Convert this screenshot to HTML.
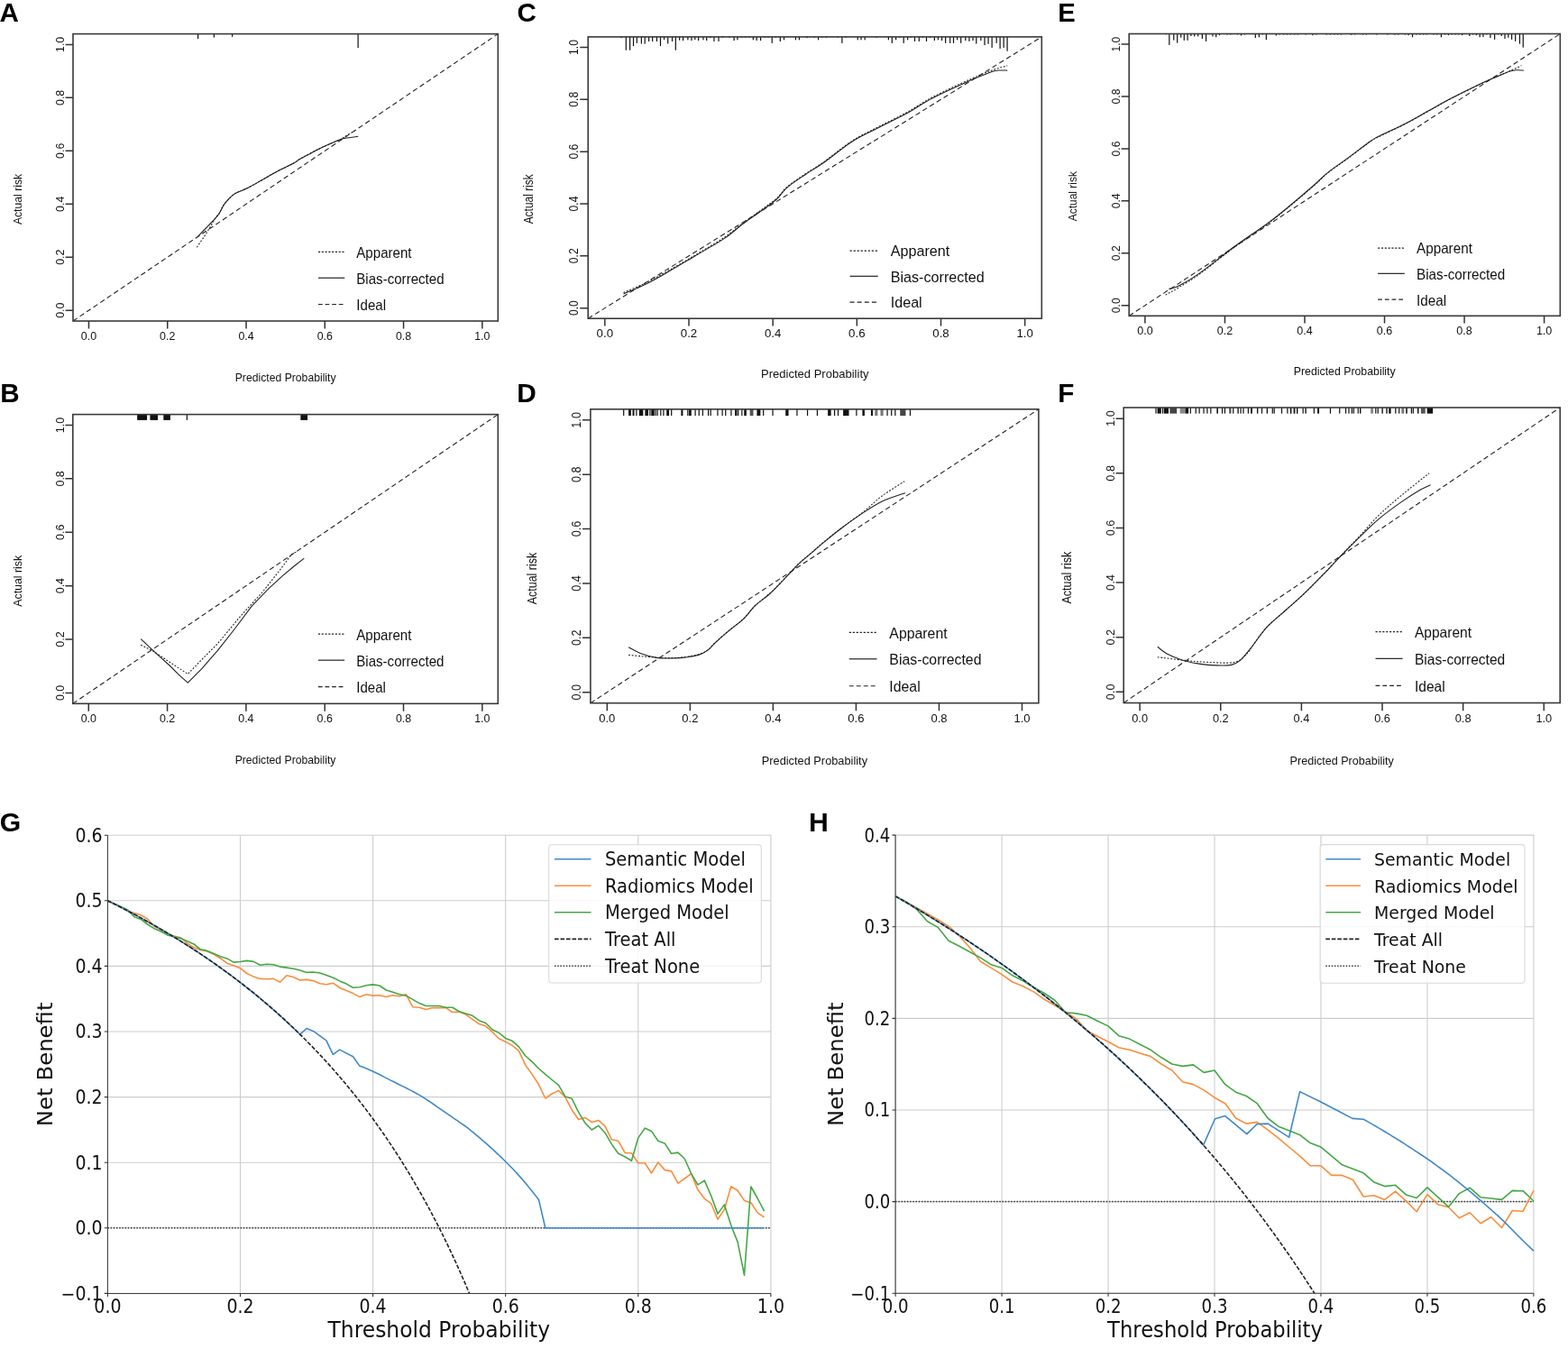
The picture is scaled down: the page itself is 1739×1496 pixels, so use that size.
<!DOCTYPE html><html><head><meta charset="utf-8"><title>Calibration and decision curves</title>
<style>html,body{margin:0;padding:0;background:#fff;}svg{display:block;}</style></head><body>
<svg width="1739" height="1496" viewBox="0 0 1739 1496">
<rect width="1739" height="1496" fill="#fff"/>
<g>
<line x1="81" y1="356" x2="552.3" y2="37.6" stroke="#222" stroke-width="1.1" stroke-dasharray="5.6 3.5"/>
<path d="M218.3 274.2C219.47 272.52 222.87 267.78 225.3 264.1C227.73 260.42 230.58 255.9 232.9 252.1C235.22 248.3 237.52 243.83 239.2 241.3C240.88 238.77 241.52 239.22 243 236.9C244.48 234.58 245.35 230.98 248.1 227.4C250.85 223.82 255.28 218.45 259.5 215.4C263.72 212.35 268.55 211.53 273.4 209.1C278.25 206.67 282.92 203.97 288.6 200.8C294.28 197.63 301.18 193.47 307.5 190.1C313.82 186.73 322.28 182.92 326.5 180.6C330.72 178.28 327.95 178.93 332.8 176.2C337.65 173.47 348.22 167.78 355.6 164.2C362.98 160.62 372.2 157.07 377.1 154.7C382 152.33 382.27 151.63 385 150C387.73 148.37 392.08 145.75 393.5 144.9" fill="none" stroke="#222" stroke-width="1.1" stroke-dasharray="1.9 1.75"/>
<path d="M219 262.8C220.17 261.58 223.47 258.13 226 255.5C228.53 252.87 232.03 249.28 234.2 247C236.37 244.72 237.53 243.48 239 241.8C240.47 240.12 241.48 239.3 243 236.9C244.52 234.5 246.43 230 248.1 227.4C249.77 224.8 251.1 223.3 253 221.3C254.9 219.3 257.33 216.92 259.5 215.4C261.67 213.88 263.68 213.25 266 212.2C268.32 211.15 269.63 211 273.4 209.1C277.17 207.2 282.92 203.97 288.6 200.8C294.28 197.63 301.18 193.47 307.5 190.1C313.82 186.73 322.28 182.92 326.5 180.6C330.72 178.28 329.88 177.88 332.8 176.2C335.72 174.52 340.2 172.5 344 170.5C347.8 168.5 350.08 166.83 355.6 164.2C361.12 161.57 372.53 156.53 377.1 154.7C381.67 152.87 381.1 153.57 383 153.2C384.9 152.83 386.12 152.82 388.5 152.5C390.88 152.18 395.83 151.5 397.3 151.3" fill="none" stroke="#222" stroke-width="1.1"/>
<rect x="219" y="37.6" width="1.2" height="5.4" fill="#111"/>
<rect x="236.8" y="37.6" width="1.2" height="4" fill="#111"/>
<rect x="257" y="37.6" width="1.2" height="3.2" fill="#111"/>
<rect x="396.5" y="37.6" width="1.2" height="15.5" fill="#111"/>
<rect x="81" y="37.6" width="471.3" height="318.4" fill="none" stroke="#3a3a3a" stroke-width="1.6"/>
<path d="M98.46 356v8.4M81 344.21h-8.4M185.73 356v8.4M81 285.24h-8.4M273.01 356v8.4M81 226.28h-8.4M360.29 356v8.4M81 167.32h-8.4M447.57 356v8.4M81 108.36h-8.4M534.84 356v8.4M81 49.39h-8.4" stroke="#333" stroke-width="1.5" fill="none"/>
<g font-family="'Liberation Sans', Arial, sans-serif" font-size="12.4" fill="#111" text-anchor="middle">
<text transform="translate(98.46 376.9) scale(1 1) scale(1 1.05)">0.0</text>
<text transform="translate(70.8 344.21) scale(1 1) rotate(-90) scale(1 1.07)">0.0</text>
<text transform="translate(185.73 376.9) scale(1 1) scale(1 1.05)">0.2</text>
<text transform="translate(70.8 285.24) scale(1 1) rotate(-90) scale(1 1.07)">0.2</text>
<text transform="translate(273.01 376.9) scale(1 1) scale(1 1.05)">0.4</text>
<text transform="translate(70.8 226.28) scale(1 1) rotate(-90) scale(1 1.07)">0.4</text>
<text transform="translate(360.29 376.9) scale(1 1) scale(1 1.05)">0.6</text>
<text transform="translate(70.8 167.32) scale(1 1) rotate(-90) scale(1 1.07)">0.6</text>
<text transform="translate(447.57 376.9) scale(1 1) scale(1 1.05)">0.8</text>
<text transform="translate(70.8 108.36) scale(1 1) rotate(-90) scale(1 1.07)">0.8</text>
<text transform="translate(534.84 376.9) scale(1 1) scale(1 1.05)">1.0</text>
<text transform="translate(70.8 49.39) scale(1 1) rotate(-90) scale(1 1.07)">1.0</text>
</g>
<g font-family="'Liberation Sans', Arial, sans-serif" font-size="12.2" fill="#111" text-anchor="middle">
<text transform="translate(316.65 422.6) scale(1 1) scale(1 1.05)">Predicted Probability</text>
<text transform="translate(24 221) scale(1 1) rotate(-90) scale(1 1.1)">Actual risk</text>
</g>
<line x1="353" y1="279.4" x2="381.8" y2="279.4" stroke="#222" stroke-width="1.2" stroke-dasharray="2.15 1.62"/>
<line x1="353" y1="308.2" x2="382.2" y2="308.2" stroke="#222" stroke-width="1.2"/>
<line x1="353" y1="337.5" x2="380.6" y2="337.5" stroke="#222" stroke-width="1.2" stroke-dasharray="4.7 2.9"/>
<g font-family="'Liberation Sans', Arial, sans-serif" font-size="15.1" fill="#111">
<text transform="translate(395.3 285.9) scale(1 1) scale(1 1.06)">Apparent</text>
<text transform="translate(395.3 314.7) scale(1 1) scale(1 1.06)">Bias-corrected</text>
<text transform="translate(395.3 344) scale(1 1) scale(1 1.06)">Ideal</text>
</g>
</g>
<g>
<line x1="80.8" y1="780.3" x2="552.3" y2="459.6" stroke="#222" stroke-width="1.1" stroke-dasharray="5.6 3.5"/>
<polyline points="156.2,715.2 169.1,721.6 188.1,734.2 208.3,747.5 223.5,731.7 241.2,714 266.5,683.6 291.8,655.8 310.8,631.7 323.4,614.7 329.8,611.5" fill="none" stroke="#222" stroke-width="1.1" stroke-dasharray="1.9 1.75"/>
<polyline points="156.2,708.7 175.4,726.6 188.1,738 198.2,748.1 208.3,757.2 223.5,741.8 241.2,721.6 260.2,697.5 279.2,672.2 298.1,652.6 313.3,638.7 326,628 337.3,619.1" fill="none" stroke="#222" stroke-width="1.1" stroke-linejoin="round"/>
<rect x="152.15" y="459.6" width="10.9" height="6.3" fill="#111"/>
<rect x="166.4" y="459.6" width="8.6" height="6.3" fill="#111"/>
<rect x="181.3" y="459.6" width="7.6" height="6.3" fill="#111"/>
<rect x="206.8" y="459.6" width="1.2" height="6.3" fill="#111"/>
<rect x="333.35" y="459.6" width="7.7" height="6.3" fill="#111"/>
<rect x="80.8" y="459.6" width="471.5" height="320.7" fill="none" stroke="#3a3a3a" stroke-width="1.6"/>
<path d="M98.26 780.3v8.46M80.8 768.42h-8.4M185.58 780.3v8.46M80.8 709.03h-8.4M272.89 780.3v8.46M80.8 649.64h-8.4M360.21 780.3v8.46M80.8 590.26h-8.4M447.52 780.3v8.46M80.8 530.87h-8.4M534.84 780.3v8.46M80.8 471.48h-8.4" stroke="#333" stroke-width="1.5" fill="none"/>
<g font-family="'Liberation Sans', Arial, sans-serif" font-size="12.4" fill="#111" text-anchor="middle">
<text transform="translate(98.26 801.35) scale(1 1.01) scale(1 1.05)">0.0</text>
<text transform="translate(70.6 768.42) scale(1 1.01) rotate(-90) scale(1 1.07)">0.0</text>
<text transform="translate(185.58 801.35) scale(1 1.01) scale(1 1.05)">0.2</text>
<text transform="translate(70.6 709.03) scale(1 1.01) rotate(-90) scale(1 1.07)">0.2</text>
<text transform="translate(272.89 801.35) scale(1 1.01) scale(1 1.05)">0.4</text>
<text transform="translate(70.6 649.64) scale(1 1.01) rotate(-90) scale(1 1.07)">0.4</text>
<text transform="translate(360.21 801.35) scale(1 1.01) scale(1 1.05)">0.6</text>
<text transform="translate(70.6 590.26) scale(1 1.01) rotate(-90) scale(1 1.07)">0.6</text>
<text transform="translate(447.52 801.35) scale(1 1.01) scale(1 1.05)">0.8</text>
<text transform="translate(70.6 530.87) scale(1 1.01) rotate(-90) scale(1 1.07)">0.8</text>
<text transform="translate(534.84 801.35) scale(1 1.01) scale(1 1.05)">1.0</text>
<text transform="translate(70.6 471.48) scale(1 1.01) rotate(-90) scale(1 1.07)">1.0</text>
</g>
<g font-family="'Liberation Sans', Arial, sans-serif" font-size="12.2" fill="#111" text-anchor="middle">
<text transform="translate(316.55 847.38) scale(1 1.01) scale(1 1.05)">Predicted Probability</text>
<text transform="translate(23.78 644.32) scale(1 1.01) rotate(-90) scale(1 1.1)">Actual risk</text>
</g>
<line x1="352.92" y1="703.15" x2="381.73" y2="703.15" stroke="#222" stroke-width="1.2" stroke-dasharray="2.15 1.62"/>
<line x1="352.92" y1="732.15" x2="382.13" y2="732.15" stroke="#222" stroke-width="1.2"/>
<line x1="352.92" y1="761.67" x2="380.53" y2="761.67" stroke="#222" stroke-width="1.2" stroke-dasharray="4.7 2.9"/>
<g font-family="'Liberation Sans', Arial, sans-serif" font-size="15.1" fill="#111">
<text transform="translate(395.23 709.69) scale(1 1.01) scale(1 1.06)">Apparent</text>
<text transform="translate(395.23 738.7) scale(1 1.01) scale(1 1.06)">Bias-corrected</text>
<text transform="translate(395.23 768.21) scale(1 1.01) scale(1 1.06)">Ideal</text>
</g>
</g>
<g>
<line x1="652.2" y1="353.2" x2="1155.3" y2="40.9" stroke="#222" stroke-width="1.1" stroke-dasharray="5.6 3.5"/>
<path d="M691.6 324.5C695.92 322.58 708.87 317.25 717.5 313C726.13 308.75 733.82 304.42 743.4 299C752.98 293.58 764.93 286.5 775 280.5C785.07 274.5 795.65 268.5 803.8 263C811.95 257.5 817.2 252.5 823.9 247.5C830.6 242.5 837.77 237.58 844 233C850.23 228.42 856.5 224.28 861.3 220C866.1 215.72 867.53 211.8 872.8 207.3C878.07 202.8 886.2 197.55 892.9 193C899.6 188.45 904.38 186.08 913 180C921.62 173.92 935.02 162.75 944.6 156.5C954.18 150.25 960.43 147.75 970.5 142.5C980.57 137.25 994.45 130.75 1005 125C1015.55 119.25 1021.82 114.25 1033.8 108C1045.78 101.75 1065.87 92.5 1076.9 87.5C1087.93 82.5 1093.28 80.43 1100 78C1106.72 75.57 1114.33 73.75 1117.2 72.9" fill="none" stroke="#222" stroke-width="1.1" stroke-dasharray="1.9 1.75"/>
<path d="M691.6 326C695.92 324.08 708.87 318.82 717.5 314.5C726.13 310.18 733.82 305.62 743.4 300.1C752.98 294.58 764.93 287.4 775 281.4C785.07 275.4 795.65 269.62 803.8 264.1C811.95 258.58 817.2 253.32 823.9 248.3C830.6 243.28 837.77 238.55 844 234C850.23 229.45 856.5 225.32 861.3 221C866.1 216.68 867.53 212.65 872.8 208.1C878.07 203.55 886.2 198.25 892.9 193.7C899.6 189.15 904.38 186.88 913 180.8C921.62 174.72 935.02 163.43 944.6 157.2C954.18 150.97 960.43 148.58 970.5 143.4C980.57 138.22 994.45 131.85 1005 126.1C1015.55 120.35 1021.82 115.12 1033.8 108.9C1045.78 102.68 1066.7 93.37 1076.9 88.8C1087.1 84.23 1090.68 83.18 1095 81.5C1099.32 79.82 1100.63 79.28 1102.8 78.7C1104.97 78.12 1105.6 78.1 1108 78C1110.4 77.9 1115.67 78.08 1117.2 78.1" fill="none" stroke="#222" stroke-width="1.1"/>
<rect x="688.51" y="40.9" width="1.2" height="1.27" fill="#111"/>
<rect x="693.69" y="40.9" width="1.2" height="14.8" fill="#111"/>
<rect x="698" y="40.9" width="1.2" height="14.8" fill="#111"/>
<rect x="701.92" y="40.9" width="1.2" height="10.12" fill="#111"/>
<rect x="705.71" y="40.9" width="1.2" height="6.96" fill="#111"/>
<rect x="710.77" y="40.9" width="1.2" height="7.59" fill="#111"/>
<rect x="714.57" y="40.9" width="1.2" height="7.84" fill="#111"/>
<rect x="719" y="40.9" width="1.2" height="5.06" fill="#111"/>
<rect x="723.04" y="40.9" width="1.2" height="5.06" fill="#111"/>
<rect x="727.85" y="40.9" width="1.2" height="5.06" fill="#111"/>
<rect x="731.9" y="40.9" width="1.2" height="10.12" fill="#111"/>
<rect x="735.95" y="40.9" width="1.2" height="3.16" fill="#111"/>
<rect x="740.12" y="40.9" width="1.2" height="7.59" fill="#111"/>
<rect x="744.93" y="40.9" width="1.2" height="5.06" fill="#111"/>
<rect x="748.72" y="40.9" width="1.2" height="14.8" fill="#111"/>
<rect x="753.02" y="40.9" width="1.2" height="3.8" fill="#111"/>
<rect x="756.95" y="40.9" width="1.2" height="4.17" fill="#111"/>
<rect x="762.26" y="40.9" width="1.2" height="3.42" fill="#111"/>
<rect x="766.31" y="40.9" width="1.2" height="4.17" fill="#111"/>
<rect x="770.23" y="40.9" width="1.2" height="3.16" fill="#111"/>
<rect x="774.02" y="40.9" width="1.2" height="4.17" fill="#111"/>
<rect x="779.34" y="40.9" width="1.2" height="3.42" fill="#111"/>
<rect x="783.13" y="40.9" width="1.2" height="4.17" fill="#111"/>
<rect x="787.18" y="40.9" width="1.2" height="1.27" fill="#111"/>
<rect x="791.35" y="40.9" width="1.2" height="5.06" fill="#111"/>
<rect x="796.41" y="40.9" width="1.2" height="5.06" fill="#111"/>
<rect x="800.84" y="40.9" width="1.2" height="0.89" fill="#111"/>
<rect x="808.43" y="40.9" width="1.2" height="0.89" fill="#111"/>
<rect x="813.49" y="40.9" width="1.2" height="4.17" fill="#111"/>
<rect x="817.29" y="40.9" width="1.2" height="3.42" fill="#111"/>
<rect x="821.71" y="40.9" width="1.2" height="0.89" fill="#111"/>
<rect x="826.14" y="40.9" width="1.2" height="0.89" fill="#111"/>
<rect x="830.57" y="40.9" width="1.2" height="0.89" fill="#111"/>
<rect x="834.74" y="40.9" width="1.2" height="3.42" fill="#111"/>
<rect x="838.54" y="40.9" width="1.2" height="4.17" fill="#111"/>
<rect x="842.97" y="40.9" width="1.2" height="4.17" fill="#111"/>
<rect x="847.65" y="40.9" width="1.2" height="0.89" fill="#111"/>
<rect x="851.44" y="40.9" width="1.2" height="0.89" fill="#111"/>
<rect x="855.62" y="40.9" width="1.2" height="6.96" fill="#111"/>
<rect x="859.67" y="40.9" width="1.2" height="0.89" fill="#111"/>
<rect x="864.73" y="40.9" width="1.2" height="5.06" fill="#111"/>
<rect x="868.9" y="40.9" width="1.2" height="3.42" fill="#111"/>
<rect x="881.8" y="40.9" width="1.2" height="3.42" fill="#111"/>
<rect x="885.85" y="40.9" width="1.2" height="3.42" fill="#111"/>
<rect x="894.45" y="40.9" width="1.2" height="1.27" fill="#111"/>
<rect x="902.56" y="40.9" width="1.2" height="0.89" fill="#111"/>
<rect x="906.99" y="40.9" width="1.2" height="3.42" fill="#111"/>
<rect x="911.42" y="40.9" width="1.2" height="0.89" fill="#111"/>
<rect x="915.85" y="40.9" width="1.2" height="0.89" fill="#111"/>
<rect x="928.5" y="40.9" width="1.2" height="0.89" fill="#111"/>
<rect x="933.3" y="40.9" width="1.2" height="6.96" fill="#111"/>
<rect x="937.35" y="40.9" width="1.2" height="0.89" fill="#111"/>
<rect x="950.63" y="40.9" width="1.2" height="3.42" fill="#111"/>
<rect x="954.43" y="40.9" width="1.2" height="3.42" fill="#111"/>
<rect x="958.6" y="40.9" width="1.2" height="3.42" fill="#111"/>
<rect x="971.51" y="40.9" width="1.2" height="0.89" fill="#111"/>
<rect x="984.79" y="40.9" width="1.2" height="3.42" fill="#111"/>
<rect x="988.71" y="40.9" width="1.2" height="6.96" fill="#111"/>
<rect x="993.01" y="40.9" width="1.2" height="3.42" fill="#111"/>
<rect x="997.44" y="40.9" width="1.2" height="0.89" fill="#111"/>
<rect x="1001.61" y="40.9" width="1.2" height="6.96" fill="#111"/>
<rect x="1006.04" y="40.9" width="1.2" height="3.42" fill="#111"/>
<rect x="1009.46" y="40.9" width="1.2" height="0.89" fill="#111"/>
<rect x="1013.88" y="40.9" width="1.2" height="5.06" fill="#111"/>
<rect x="1018.69" y="40.9" width="1.2" height="5.06" fill="#111"/>
<rect x="1022.74" y="40.9" width="1.2" height="0.89" fill="#111"/>
<rect x="1026.91" y="40.9" width="1.2" height="5.06" fill="#111"/>
<rect x="1030.96" y="40.9" width="1.2" height="0.89" fill="#111"/>
<rect x="1035.77" y="40.9" width="1.2" height="4.17" fill="#111"/>
<rect x="1039.82" y="40.9" width="1.2" height="3.42" fill="#111"/>
<rect x="1043.99" y="40.9" width="1.2" height="4.17" fill="#111"/>
<rect x="1048.04" y="40.9" width="1.2" height="6.96" fill="#111"/>
<rect x="1053.1" y="40.9" width="1.2" height="6.96" fill="#111"/>
<rect x="1056.9" y="40.9" width="1.2" height="6.96" fill="#111"/>
<rect x="1061.07" y="40.9" width="1.2" height="3.42" fill="#111"/>
<rect x="1065.12" y="40.9" width="1.2" height="6.96" fill="#111"/>
<rect x="1070.18" y="40.9" width="1.2" height="4.17" fill="#111"/>
<rect x="1074.35" y="40.9" width="1.2" height="5.06" fill="#111"/>
<rect x="1078.4" y="40.9" width="1.2" height="4.17" fill="#111"/>
<rect x="1082.2" y="40.9" width="1.2" height="7.59" fill="#111"/>
<rect x="1087.26" y="40.9" width="1.2" height="4.17" fill="#111"/>
<rect x="1091.43" y="40.9" width="1.2" height="9.23" fill="#111"/>
<rect x="1095.48" y="40.9" width="1.2" height="7.84" fill="#111"/>
<rect x="1099.53" y="40.9" width="1.2" height="12.02" fill="#111"/>
<rect x="1104.59" y="40.9" width="1.2" height="6.96" fill="#111"/>
<rect x="1108.51" y="40.9" width="1.2" height="13.03" fill="#111"/>
<rect x="1112.56" y="40.9" width="1.2" height="12.02" fill="#111"/>
<rect x="1116.48" y="40.9" width="1.2" height="15.81" fill="#111"/>
<rect x="652.2" y="40.9" width="503.1" height="312.3" fill="none" stroke="#3a3a3a" stroke-width="1.6"/>
<path d="M670.83 353.2v8.24M652.2 341.63h-8.97M764 353.2v8.24M652.2 283.8h-8.97M857.17 353.2v8.24M652.2 225.97h-8.97M950.33 353.2v8.24M652.2 168.13h-8.97M1043.5 353.2v8.24M652.2 110.3h-8.97M1136.67 353.2v8.24M652.2 52.47h-8.97" stroke="#333" stroke-width="1.5" fill="none"/>
<g font-family="'Liberation Sans', Arial, sans-serif" font-size="12.4" fill="#111" text-anchor="middle">
<text transform="translate(670.83 373.7) scale(1.07 0.98) scale(1 1.05)">0.0</text>
<text transform="translate(641.31 341.63) scale(1.07 0.98) rotate(-90) scale(1 1.07)">0.0</text>
<text transform="translate(764 373.7) scale(1.07 0.98) scale(1 1.05)">0.2</text>
<text transform="translate(641.31 283.8) scale(1.07 0.98) rotate(-90) scale(1 1.07)">0.2</text>
<text transform="translate(857.17 373.7) scale(1.07 0.98) scale(1 1.05)">0.4</text>
<text transform="translate(641.31 225.97) scale(1.07 0.98) rotate(-90) scale(1 1.07)">0.4</text>
<text transform="translate(950.33 373.7) scale(1.07 0.98) scale(1 1.05)">0.6</text>
<text transform="translate(641.31 168.13) scale(1.07 0.98) rotate(-90) scale(1 1.07)">0.6</text>
<text transform="translate(1043.5 373.7) scale(1.07 0.98) scale(1 1.05)">0.8</text>
<text transform="translate(641.31 110.3) scale(1.07 0.98) rotate(-90) scale(1 1.07)">0.8</text>
<text transform="translate(1136.67 373.7) scale(1.07 0.98) scale(1 1.05)">1.0</text>
<text transform="translate(641.31 52.47) scale(1.07 0.98) rotate(-90) scale(1 1.07)">1.0</text>
</g>
<g font-family="'Liberation Sans', Arial, sans-serif" font-size="12.2" fill="#111" text-anchor="middle">
<text transform="translate(903.75 418.52) scale(1.07 0.98) scale(1 1.05)">Predicted Probability</text>
<text transform="translate(591.35 220.79) scale(1.07 0.98) rotate(-90) scale(1 1.1)">Actual risk</text>
</g>
<line x1="942.55" y1="278.07" x2="973.3" y2="278.07" stroke="#222" stroke-width="1.2" stroke-dasharray="2.3 1.73"/>
<line x1="942.55" y1="306.32" x2="973.72" y2="306.32" stroke="#222" stroke-width="1.2"/>
<line x1="942.55" y1="335.05" x2="972.01" y2="335.05" stroke="#222" stroke-width="1.2" stroke-dasharray="5.02 3.1"/>
<g font-family="'Liberation Sans', Arial, sans-serif" font-size="15.1" fill="#111">
<text transform="translate(987.71 284.44) scale(1.07 0.98) scale(1 1.06)">Apparent</text>
<text transform="translate(987.71 312.69) scale(1.07 0.98) scale(1 1.06)">Bias-corrected</text>
<text transform="translate(987.71 341.43) scale(1.07 0.98) scale(1 1.06)">Ideal</text>
</g>
</g>
<g>
<line x1="654.9" y1="779.7" x2="1151.9" y2="453.8" stroke="#222" stroke-width="1.1" stroke-dasharray="5.6 3.5"/>
<path d="M697.1 726.4C699.58 726.63 706.8 727.33 712 727.8C717.2 728.27 723.3 728.9 728.3 729.2C733.3 729.5 737.3 729.63 742 729.6C746.7 729.57 751.07 729.63 756.5 729C761.93 728.37 769.92 727.13 774.6 725.8C779.28 724.47 781.58 723.13 784.6 721C787.62 718.87 788.67 716.67 792.7 713C796.73 709.33 803.43 703.5 808.8 699C814.17 694.5 820.2 690.5 824.9 686C829.6 681.5 832.3 676.55 837 672C841.7 667.45 847.73 663.6 853.1 658.7C858.47 653.8 863.83 648.13 869.2 642.6C874.57 637.07 880.27 630.37 885.3 625.5C890.33 620.63 894.72 617.43 899.4 613.4C904.08 609.37 907.7 606 913.4 601.3C919.1 596.6 926.22 590.83 933.6 585.2C940.98 579.57 950.33 573.32 957.7 567.5C965.07 561.68 970.25 555.92 977.8 550.3C985.35 544.68 998.8 536.55 1003 533.8" fill="none" stroke="#222" stroke-width="1.1" stroke-dasharray="1.9 1.75"/>
<path d="M697.1 717.7C699.28 718.82 705 722.45 710.2 724.4C715.4 726.35 723 728.47 728.3 729.4C733.6 730.33 737.3 730 742 730C746.7 730 751.07 730 756.5 729.4C761.93 728.8 769.92 727.73 774.6 726.4C779.28 725.07 781.58 723.58 784.6 721.4C787.62 719.22 788.67 717 792.7 713.3C796.73 709.6 803.43 703.72 808.8 699.2C814.17 694.68 820.2 690.72 824.9 686.2C829.6 681.68 832.3 676.63 837 672.1C841.7 667.57 847.73 663.87 853.1 659C858.47 654.13 863.83 648.43 869.2 642.9C874.57 637.37 880.27 630.67 885.3 625.8C890.33 620.93 894.72 617.73 899.4 613.7C904.08 609.67 907.7 606.3 913.4 601.6C919.1 596.9 926.22 591.03 933.6 585.5C940.98 579.97 950.33 573.27 957.7 568.4C965.07 563.53 971.77 559.38 977.8 556.3C983.83 553.22 989.53 551.5 993.9 549.9C998.27 548.3 1002.32 547.23 1004 546.7" fill="none" stroke="#222" stroke-width="1.1"/>
<rect x="691.1" y="453.8" width="1.2" height="7.2" fill="#111"/>
<rect x="697.08" y="453.8" width="2.8" height="7.2" fill="#111"/>
<rect x="701.53" y="453.8" width="1.97" height="7.2" fill="#111"/>
<rect x="705.28" y="453.8" width="1.2" height="7.2" fill="#111"/>
<rect x="708.78" y="453.8" width="4.55" height="7.2" fill="#111"/>
<rect x="715.4" y="453.8" width="3.62" height="7.2" fill="#111"/>
<rect x="720.29" y="453.8" width="1.2" height="7.2" fill="#111"/>
<rect x="722.24" y="453.8" width="3.52" height="7.2" fill="#111"/>
<rect x="726.5" y="453.8" width="1.2" height="7.2" fill="#111"/>
<rect x="728.57" y="453.8" width="1.2" height="7.2" fill="#111"/>
<rect x="732.2" y="453.8" width="1.2" height="7.2" fill="#111"/>
<rect x="735.3" y="453.8" width="1.2" height="7.2" fill="#111"/>
<rect x="739.21" y="453.8" width="2.9" height="7.2" fill="#111"/>
<rect x="744.1" y="453.8" width="1.2" height="7.2" fill="#111"/>
<rect x="755.36" y="453.8" width="2.07" height="7.2" fill="#111"/>
<rect x="762.22" y="453.8" width="1.2" height="7.2" fill="#111"/>
<rect x="764.06" y="453.8" width="2.69" height="7.2" fill="#111"/>
<rect x="770.5" y="453.8" width="1.2" height="7.2" fill="#111"/>
<rect x="774.64" y="453.8" width="1.2" height="7.2" fill="#111"/>
<rect x="778.78" y="453.8" width="1.2" height="7.2" fill="#111"/>
<rect x="784.99" y="453.8" width="1.2" height="7.2" fill="#111"/>
<rect x="787.58" y="453.8" width="1.2" height="7.2" fill="#111"/>
<rect x="795.34" y="453.8" width="1.2" height="7.2" fill="#111"/>
<rect x="800.52" y="453.8" width="1.2" height="7.2" fill="#111"/>
<rect x="804.14" y="453.8" width="1.2" height="7.2" fill="#111"/>
<rect x="810.35" y="453.8" width="1.2" height="7.2" fill="#111"/>
<rect x="815.09" y="453.8" width="2.38" height="7.2" fill="#111"/>
<rect x="818.12" y="453.8" width="1.2" height="7.2" fill="#111"/>
<rect x="822.26" y="453.8" width="1.2" height="7.2" fill="#111"/>
<rect x="825.24" y="453.8" width="2.59" height="7.2" fill="#111"/>
<rect x="831.66" y="453.8" width="3.83" height="7.2" fill="#555"/>
<rect x="839.42" y="453.8" width="3.93" height="7.2" fill="#111"/>
<rect x="846.07" y="453.8" width="1.2" height="7.2" fill="#111"/>
<rect x="856.42" y="453.8" width="1.2" height="7.2" fill="#111"/>
<rect x="871.22" y="453.8" width="3.31" height="7.2" fill="#111"/>
<rect x="883.35" y="453.8" width="1.2" height="7.2" fill="#111"/>
<rect x="894.95" y="453.8" width="1.2" height="7.2" fill="#111"/>
<rect x="905.82" y="453.8" width="1.2" height="7.2" fill="#111"/>
<rect x="918.12" y="453.8" width="3.52" height="7.2" fill="#111"/>
<rect x="924.97" y="453.8" width="1.2" height="7.2" fill="#111"/>
<rect x="928.9" y="453.8" width="1.2" height="7.2" fill="#111"/>
<rect x="935.09" y="453.8" width="6.42" height="7.2" fill="#111"/>
<rect x="949.3" y="453.8" width="1.2" height="7.2" fill="#111"/>
<rect x="956.42" y="453.8" width="2.48" height="7.2" fill="#111"/>
<rect x="965.94" y="453.8" width="2.07" height="7.2" fill="#111"/>
<rect x="970.29" y="453.8" width="3.11" height="7.2" fill="#777"/>
<rect x="976.5" y="453.8" width="3.11" height="7.2" fill="#777"/>
<rect x="983.46" y="453.8" width="1.2" height="7.2" fill="#111"/>
<rect x="988.12" y="453.8" width="1.2" height="7.2" fill="#111"/>
<rect x="992.26" y="453.8" width="1.2" height="7.2" fill="#111"/>
<rect x="998.24" y="453.8" width="6.21" height="7.2" fill="#444"/>
<rect x="1008.82" y="453.8" width="1.2" height="7.2" fill="#111"/>
<rect x="654.9" y="453.8" width="497" height="325.9" fill="none" stroke="#3a3a3a" stroke-width="1.6"/>
<path d="M673.31 779.7v8.6M654.9 767.63h-8.86M765.34 779.7v8.6M654.9 707.28h-8.86M857.38 779.7v8.6M654.9 646.93h-8.86M949.42 779.7v8.6M654.9 586.57h-8.86M1041.46 779.7v8.6M654.9 526.22h-8.86M1133.49 779.7v8.6M654.9 465.87h-8.86" stroke="#333" stroke-width="1.5" fill="none"/>
<g font-family="'Liberation Sans', Arial, sans-serif" font-size="12.4" fill="#111" text-anchor="middle">
<text transform="translate(673.31 801.09) scale(1.05 1.02) scale(1 1.05)">0.0</text>
<text transform="translate(644.14 767.63) scale(1.05 1.02) rotate(-90) scale(1 1.07)">0.0</text>
<text transform="translate(765.34 801.09) scale(1.05 1.02) scale(1 1.05)">0.2</text>
<text transform="translate(644.14 707.28) scale(1.05 1.02) rotate(-90) scale(1 1.07)">0.2</text>
<text transform="translate(857.38 801.09) scale(1.05 1.02) scale(1 1.05)">0.4</text>
<text transform="translate(644.14 646.93) scale(1.05 1.02) rotate(-90) scale(1 1.07)">0.4</text>
<text transform="translate(949.42 801.09) scale(1.05 1.02) scale(1 1.05)">0.6</text>
<text transform="translate(644.14 586.57) scale(1.05 1.02) rotate(-90) scale(1 1.07)">0.6</text>
<text transform="translate(1041.46 801.09) scale(1.05 1.02) scale(1 1.05)">0.8</text>
<text transform="translate(644.14 526.22) scale(1.05 1.02) rotate(-90) scale(1 1.07)">0.8</text>
<text transform="translate(1133.49 801.09) scale(1.05 1.02) scale(1 1.05)">1.0</text>
<text transform="translate(644.14 465.87) scale(1.05 1.02) rotate(-90) scale(1 1.07)">1.0</text>
</g>
<g font-family="'Liberation Sans', Arial, sans-serif" font-size="12.2" fill="#111" text-anchor="middle">
<text transform="translate(903.4 847.87) scale(1.05 1.02) scale(1 1.05)">Predicted Probability</text>
<text transform="translate(594.79 641.52) scale(1.05 1.02) rotate(-90) scale(1 1.1)">Actual risk</text>
</g>
<line x1="941.73" y1="701.3" x2="972.1" y2="701.3" stroke="#222" stroke-width="1.2" stroke-dasharray="2.27 1.71"/>
<line x1="941.73" y1="730.77" x2="972.52" y2="730.77" stroke="#222" stroke-width="1.2"/>
<line x1="941.73" y1="760.76" x2="970.84" y2="760.76" stroke="#222" stroke-width="1.2" stroke-dasharray="4.96 3.06"/>
<g font-family="'Liberation Sans', Arial, sans-serif" font-size="15.1" fill="#111">
<text transform="translate(986.34 707.95) scale(1.05 1.02) scale(1 1.06)">Apparent</text>
<text transform="translate(986.34 737.43) scale(1.05 1.02) scale(1 1.06)">Bias-corrected</text>
<text transform="translate(986.34 767.42) scale(1.05 1.02) scale(1 1.06)">Ideal</text>
</g>
</g>
<g>
<line x1="1252.2" y1="350.3" x2="1730.3" y2="37.5" stroke="#222" stroke-width="1.1" stroke-dasharray="5.6 3.5"/>
<path d="M1292.7 327C1295.22 325.58 1301.48 322.37 1307.8 318.5C1314.12 314.63 1320.47 311.13 1330.6 303.8C1340.73 296.47 1355.95 283.83 1368.6 274.5C1381.25 265.17 1395.97 255.63 1406.5 247.8C1417.03 239.97 1423.37 234.47 1431.8 227.5C1440.23 220.53 1450.35 211.92 1457.1 206C1463.85 200.08 1465.97 197.08 1472.3 192C1478.63 186.92 1487.08 181.4 1495.1 175.5C1503.12 169.6 1514.5 160.68 1520.4 156.6C1526.3 152.52 1524.18 154.17 1530.5 151C1536.82 147.83 1549.45 142.17 1558.3 137.6C1567.15 133.03 1575.17 128.27 1583.6 123.6C1592.03 118.93 1599.62 114.47 1608.9 109.6C1618.18 104.73 1630.85 98.5 1639.3 94.4C1647.75 90.3 1653.65 87.65 1659.6 85C1665.55 82.35 1670.37 80.55 1675 78.5C1679.63 76.45 1685.33 73.67 1687.4 72.7" fill="none" stroke="#222" stroke-width="1.1" stroke-dasharray="1.9 1.75"/>
<path d="M1296.4 320.6C1298.3 319.97 1302.1 319.75 1307.8 316.8C1313.5 313.85 1320.47 310.07 1330.6 302.9C1340.73 295.73 1355.95 283.08 1368.6 273.8C1381.25 264.52 1395.97 255 1406.5 247.2C1417.03 239.4 1423.37 233.95 1431.8 227C1440.23 220.05 1450.35 211.4 1457.1 205.5C1463.85 199.6 1465.97 196.67 1472.3 191.6C1478.63 186.53 1487.08 181 1495.1 175.1C1503.12 169.2 1514.5 160.28 1520.4 156.2C1526.3 152.12 1524.18 153.77 1530.5 150.6C1536.82 147.43 1549.45 141.75 1558.3 137.2C1567.15 132.65 1575.17 127.95 1583.6 123.3C1592.03 118.65 1599.62 114.15 1608.9 109.3C1618.18 104.45 1630.85 98.2 1639.3 94.2C1647.75 90.2 1653.7 87.83 1659.6 85.3C1665.5 82.77 1670.92 80.27 1674.7 79C1678.48 77.73 1679.77 77.83 1682.3 77.7C1684.83 77.57 1688.63 78.12 1689.9 78.2" fill="none" stroke="#222" stroke-width="1.1"/>
<rect x="1292.68" y="37.5" width="1.2" height="0.76" fill="#111"/>
<rect x="1296.22" y="37.5" width="1.2" height="12.4" fill="#111"/>
<rect x="1301.16" y="37.5" width="1.2" height="7.08" fill="#111"/>
<rect x="1305.08" y="37.5" width="1.2" height="10.12" fill="#111"/>
<rect x="1309.13" y="37.5" width="1.2" height="4.17" fill="#111"/>
<rect x="1312.67" y="37.5" width="1.2" height="7.34" fill="#111"/>
<rect x="1316.47" y="37.5" width="1.2" height="7.34" fill="#111"/>
<rect x="1320.26" y="37.5" width="1.2" height="2.53" fill="#111"/>
<rect x="1324.06" y="37.5" width="1.2" height="2.91" fill="#111"/>
<rect x="1328.1" y="37.5" width="1.2" height="2.91" fill="#111"/>
<rect x="1332.78" y="37.5" width="1.2" height="5.44" fill="#111"/>
<rect x="1336.96" y="37.5" width="1.2" height="8.35" fill="#111"/>
<rect x="1340.75" y="37.5" width="1.2" height="0.76" fill="#111"/>
<rect x="1344.3" y="37.5" width="1.2" height="2.91" fill="#111"/>
<rect x="1348.09" y="37.5" width="1.2" height="3.8" fill="#111"/>
<rect x="1351.89" y="37.5" width="1.2" height="1.64" fill="#111"/>
<rect x="1360.36" y="37.5" width="1.2" height="1.01" fill="#111"/>
<rect x="1364.16" y="37.5" width="1.2" height="1.01" fill="#111"/>
<rect x="1371.75" y="37.5" width="1.2" height="1.01" fill="#111"/>
<rect x="1375.92" y="37.5" width="1.2" height="2.02" fill="#111"/>
<rect x="1379.97" y="37.5" width="1.2" height="1.01" fill="#111"/>
<rect x="1391.73" y="37.5" width="1.2" height="4.55" fill="#111"/>
<rect x="1395.78" y="37.5" width="1.2" height="3.8" fill="#111"/>
<rect x="1399.58" y="37.5" width="1.2" height="1.01" fill="#111"/>
<rect x="1403.75" y="37.5" width="1.2" height="6.7" fill="#111"/>
<rect x="1414.76" y="37.5" width="1.2" height="2.02" fill="#111"/>
<rect x="1418.55" y="37.5" width="1.2" height="1.01" fill="#111"/>
<rect x="1422.98" y="37.5" width="1.2" height="1.01" fill="#111"/>
<rect x="1426.78" y="37.5" width="1.2" height="1.01" fill="#111"/>
<rect x="1430.57" y="37.5" width="1.2" height="1.01" fill="#111"/>
<rect x="1435" y="37.5" width="1.2" height="1.01" fill="#111"/>
<rect x="1438.79" y="37.5" width="1.2" height="1.01" fill="#111"/>
<rect x="1447.65" y="37.5" width="1.2" height="1.01" fill="#111"/>
<rect x="1455.24" y="37.5" width="1.2" height="1.64" fill="#111"/>
<rect x="1459.03" y="37.5" width="1.2" height="1.01" fill="#111"/>
<rect x="1470.42" y="37.5" width="1.2" height="1.01" fill="#111"/>
<rect x="1474.85" y="37.5" width="1.2" height="1.01" fill="#111"/>
<rect x="1479.27" y="37.5" width="1.2" height="1.01" fill="#111"/>
<rect x="1483.07" y="37.5" width="1.2" height="1.01" fill="#111"/>
<rect x="1486.86" y="37.5" width="1.2" height="1.01" fill="#111"/>
<rect x="1498.25" y="37.5" width="1.2" height="1.01" fill="#111"/>
<rect x="1497.62" y="37.5" width="1.2" height="1.01" fill="#111"/>
<rect x="1502.05" y="37.5" width="1.2" height="1.01" fill="#111"/>
<rect x="1510.91" y="37.5" width="1.2" height="1.01" fill="#111"/>
<rect x="1514.7" y="37.5" width="1.2" height="1.01" fill="#111"/>
<rect x="1526.09" y="37.5" width="1.2" height="1.01" fill="#111"/>
<rect x="1538.1" y="37.5" width="1.2" height="1.01" fill="#111"/>
<rect x="1546.33" y="37.5" width="1.2" height="1.01" fill="#111"/>
<rect x="1550.12" y="37.5" width="1.2" height="1.01" fill="#111"/>
<rect x="1557.71" y="37.5" width="1.2" height="1.01" fill="#111"/>
<rect x="1561.51" y="37.5" width="1.2" height="1.64" fill="#111"/>
<rect x="1565.93" y="37.5" width="1.2" height="3.8" fill="#111"/>
<rect x="1570.36" y="37.5" width="1.2" height="1.01" fill="#111"/>
<rect x="1574.16" y="37.5" width="1.2" height="1.01" fill="#111"/>
<rect x="1577.95" y="37.5" width="1.2" height="1.01" fill="#111"/>
<rect x="1581.75" y="37.5" width="1.2" height="1.01" fill="#111"/>
<rect x="1589.34" y="37.5" width="1.2" height="1.01" fill="#111"/>
<rect x="1593.13" y="37.5" width="1.2" height="1.01" fill="#111"/>
<rect x="1597.81" y="37.5" width="1.2" height="3.8" fill="#111"/>
<rect x="1601.99" y="37.5" width="1.2" height="1.01" fill="#111"/>
<rect x="1605.78" y="37.5" width="1.2" height="1.64" fill="#111"/>
<rect x="1609.58" y="37.5" width="1.2" height="1.01" fill="#111"/>
<rect x="1613.37" y="37.5" width="1.2" height="1.01" fill="#111"/>
<rect x="1617.17" y="37.5" width="1.2" height="1.01" fill="#111"/>
<rect x="1620.96" y="37.5" width="1.2" height="1.64" fill="#111"/>
<rect x="1629.18" y="37.5" width="1.2" height="2.53" fill="#111"/>
<rect x="1632.98" y="37.5" width="1.2" height="1.01" fill="#111"/>
<rect x="1636.78" y="37.5" width="1.2" height="1.64" fill="#111"/>
<rect x="1640.57" y="37.5" width="1.2" height="3.8" fill="#111"/>
<rect x="1644.37" y="37.5" width="1.2" height="3.54" fill="#111"/>
<rect x="1648.16" y="37.5" width="1.2" height="1.01" fill="#111"/>
<rect x="1652.33" y="37.5" width="1.2" height="4.55" fill="#111"/>
<rect x="1657.02" y="37.5" width="1.2" height="6.33" fill="#111"/>
<rect x="1660.81" y="37.5" width="1.2" height="1.01" fill="#111"/>
<rect x="1664.61" y="37.5" width="1.2" height="2.53" fill="#111"/>
<rect x="1668.4" y="37.5" width="1.2" height="5.44" fill="#111"/>
<rect x="1672.2" y="37.5" width="1.2" height="4.17" fill="#111"/>
<rect x="1675.99" y="37.5" width="1.2" height="6.33" fill="#111"/>
<rect x="1680.04" y="37.5" width="1.2" height="8.35" fill="#111"/>
<rect x="1684.85" y="37.5" width="1.2" height="11.13" fill="#111"/>
<rect x="1688.64" y="37.5" width="1.2" height="15.18" fill="#111"/>
<rect x="1252.2" y="37.5" width="478.1" height="312.8" fill="none" stroke="#3a3a3a" stroke-width="1.6"/>
<path d="M1269.91 350.3v8.25M1252.2 338.71h-8.52M1358.44 350.3v8.25M1252.2 280.79h-8.52M1446.98 350.3v8.25M1252.2 222.86h-8.52M1535.52 350.3v8.25M1252.2 164.94h-8.52M1624.06 350.3v8.25M1252.2 107.01h-8.52M1712.59 350.3v8.25M1252.2 49.09h-8.52" stroke="#333" stroke-width="1.5" fill="none"/>
<g font-family="'Liberation Sans', Arial, sans-serif" font-size="12.4" fill="#111" text-anchor="middle">
<text transform="translate(1269.91 370.83) scale(1.01 0.98) scale(1 1.05)">0.0</text>
<text transform="translate(1241.85 338.71) scale(1.01 0.98) rotate(-90) scale(1 1.07)">0.0</text>
<text transform="translate(1358.44 370.83) scale(1.01 0.98) scale(1 1.05)">0.2</text>
<text transform="translate(1241.85 280.79) scale(1.01 0.98) rotate(-90) scale(1 1.07)">0.2</text>
<text transform="translate(1446.98 370.83) scale(1.01 0.98) scale(1 1.05)">0.4</text>
<text transform="translate(1241.85 222.86) scale(1.01 0.98) rotate(-90) scale(1 1.07)">0.4</text>
<text transform="translate(1535.52 370.83) scale(1.01 0.98) scale(1 1.05)">0.6</text>
<text transform="translate(1241.85 164.94) scale(1.01 0.98) rotate(-90) scale(1 1.07)">0.6</text>
<text transform="translate(1624.06 370.83) scale(1.01 0.98) scale(1 1.05)">0.8</text>
<text transform="translate(1241.85 107.01) scale(1.01 0.98) rotate(-90) scale(1 1.07)">0.8</text>
<text transform="translate(1712.59 370.83) scale(1.01 0.98) scale(1 1.05)">1.0</text>
<text transform="translate(1241.85 49.09) scale(1.01 0.98) rotate(-90) scale(1 1.07)">1.0</text>
</g>
<g font-family="'Liberation Sans', Arial, sans-serif" font-size="12.2" fill="#111" text-anchor="middle">
<text transform="translate(1491.25 415.73) scale(1.01 0.98) scale(1 1.05)">Predicted Probability</text>
<text transform="translate(1194.38 217.67) scale(1.01 0.98) rotate(-90) scale(1 1.1)">Actual risk</text>
</g>
<line x1="1528.12" y1="275.05" x2="1557.34" y2="275.05" stroke="#222" stroke-width="1.2" stroke-dasharray="2.18 1.64"/>
<line x1="1528.12" y1="303.34" x2="1557.75" y2="303.34" stroke="#222" stroke-width="1.2"/>
<line x1="1528.12" y1="332.13" x2="1556.12" y2="332.13" stroke="#222" stroke-width="1.2" stroke-dasharray="4.77 2.94"/>
<g font-family="'Liberation Sans', Arial, sans-serif" font-size="15.1" fill="#111">
<text transform="translate(1571.03 281.43) scale(1.01 0.98) scale(1 1.06)">Apparent</text>
<text transform="translate(1571.03 309.73) scale(1.01 0.98) scale(1 1.06)">Bias-corrected</text>
<text transform="translate(1571.03 338.51) scale(1.01 0.98) scale(1 1.06)">Ideal</text>
</g>
</g>
<g>
<line x1="1246.2" y1="779.5" x2="1730.2" y2="452" stroke="#222" stroke-width="1.1" stroke-dasharray="5.6 3.5"/>
<path d="M1283.8 728.7C1288.8 729.3 1304.65 731.37 1313.8 732.3C1322.95 733.23 1329.38 733.97 1338.7 734.3C1348.02 734.63 1362.12 736.08 1369.7 734.3C1377.28 732.52 1381.1 726.43 1384.2 723.6C1387.3 720.77 1384.85 721.97 1388.3 717.3C1391.75 712.63 1398.68 702.32 1404.9 695.6C1411.12 688.88 1418.7 683.2 1425.6 677C1432.5 670.8 1439.4 664.95 1446.3 658.4C1453.2 651.85 1460.1 644.85 1467 637.7C1473.9 630.55 1480.8 622.78 1487.7 615.5C1494.6 608.22 1501.5 601.35 1508.4 594C1515.3 586.65 1521.52 578.78 1529.1 571.4C1536.68 564.02 1544.58 557.47 1553.9 549.7C1563.22 541.93 1579.82 528.95 1585 524.8" fill="none" stroke="#222" stroke-width="1.1" stroke-dasharray="1.9 1.75"/>
<path d="M1283.8 717.3C1285.7 718.68 1290.55 723.1 1295.2 725.6C1299.85 728.1 1306.57 730.65 1311.7 732.3C1316.83 733.95 1320.82 734.62 1326 735.5C1331.18 736.38 1336.2 737.28 1342.8 737.6C1349.4 737.92 1360.08 738.37 1365.6 737.4C1371.12 736.43 1372.12 735.15 1375.9 731.8C1379.68 728.45 1383.47 723.33 1388.3 717.3C1393.13 711.27 1398.68 702.32 1404.9 695.6C1411.12 688.88 1418.7 683.2 1425.6 677C1432.5 670.8 1439.4 664.95 1446.3 658.4C1453.2 651.85 1460.1 644.78 1467 637.7C1473.9 630.62 1480.8 622.98 1487.7 615.9C1494.6 608.82 1501.5 601.92 1508.4 595.2C1515.3 588.48 1521.52 581.98 1529.1 575.6C1536.68 569.22 1546.32 562.25 1553.9 556.9C1561.48 551.55 1569.15 546.7 1574.6 543.5C1580.05 540.3 1584.6 538.67 1586.6 537.7" fill="none" stroke="#222" stroke-width="1.1"/>
<rect x="1280.95" y="452" width="2.35" height="6.6" fill="#777"/>
<rect x="1283.69" y="452" width="4.11" height="6.6" fill="#111"/>
<rect x="1288.95" y="452" width="1.2" height="6.6" fill="#111"/>
<rect x="1290.82" y="452" width="5.18" height="6.6" fill="#111"/>
<rect x="1297.37" y="452" width="7.82" height="6.6" fill="#444"/>
<rect x="1308.61" y="452" width="5.57" height="6.6" fill="#888"/>
<rect x="1314.48" y="452" width="3.62" height="6.6" fill="#111"/>
<rect x="1319.74" y="452" width="1.2" height="6.6" fill="#111"/>
<rect x="1325.61" y="452" width="1.2" height="6.6" fill="#111"/>
<rect x="1329.52" y="452" width="1.2" height="6.6" fill="#111"/>
<rect x="1334.4" y="452" width="1.2" height="6.6" fill="#111"/>
<rect x="1338.31" y="452" width="1.2" height="6.6" fill="#111"/>
<rect x="1342.23" y="452" width="1.2" height="6.6" fill="#111"/>
<rect x="1349.37" y="452" width="1.56" height="6.6" fill="#111"/>
<rect x="1354.93" y="452" width="1.2" height="6.6" fill="#111"/>
<rect x="1357.87" y="452" width="1.2" height="6.6" fill="#111"/>
<rect x="1363.16" y="452" width="2.35" height="6.6" fill="#555"/>
<rect x="1367.15" y="452" width="1.2" height="6.6" fill="#111"/>
<rect x="1372.44" y="452" width="1.37" height="6.6" fill="#111"/>
<rect x="1375.46" y="452" width="1.2" height="6.6" fill="#111"/>
<rect x="1378.39" y="452" width="1.2" height="6.6" fill="#111"/>
<rect x="1383.77" y="452" width="1.2" height="6.6" fill="#111"/>
<rect x="1387.11" y="452" width="1.76" height="6.6" fill="#111"/>
<rect x="1393.95" y="452" width="1.37" height="6.6" fill="#111"/>
<rect x="1398.92" y="452" width="1.2" height="6.6" fill="#111"/>
<rect x="1404.7" y="452" width="1.37" height="6.6" fill="#111"/>
<rect x="1410.65" y="452" width="1.2" height="6.6" fill="#111"/>
<rect x="1412.61" y="452" width="1.2" height="6.6" fill="#111"/>
<rect x="1420.92" y="452" width="1.2" height="6.6" fill="#111"/>
<rect x="1427.27" y="452" width="1.2" height="6.6" fill="#111"/>
<rect x="1431.18" y="452" width="1.2" height="6.6" fill="#111"/>
<rect x="1434.6" y="452" width="1.2" height="6.6" fill="#111"/>
<rect x="1438.02" y="452" width="1.2" height="6.6" fill="#111"/>
<rect x="1430.87" y="452" width="1.2" height="6.6" fill="#111"/>
<rect x="1435.27" y="452" width="1.2" height="6.6" fill="#111"/>
<rect x="1438" y="452" width="1.2" height="6.6" fill="#111"/>
<rect x="1444.55" y="452" width="1.2" height="6.6" fill="#111"/>
<rect x="1447.4" y="452" width="1.37" height="6.6" fill="#111"/>
<rect x="1456.77" y="452" width="1.2" height="6.6" fill="#111"/>
<rect x="1461.09" y="452" width="1.96" height="6.6" fill="#111"/>
<rect x="1474.85" y="452" width="1.2" height="6.6" fill="#111"/>
<rect x="1485.12" y="452" width="1.2" height="6.6" fill="#111"/>
<rect x="1491.96" y="452" width="1.2" height="6.6" fill="#111"/>
<rect x="1495.38" y="452" width="1.2" height="6.6" fill="#111"/>
<rect x="1498.8" y="452" width="1.2" height="6.6" fill="#111"/>
<rect x="1500.76" y="452" width="1.2" height="6.6" fill="#111"/>
<rect x="1505.65" y="452" width="1.2" height="6.6" fill="#111"/>
<rect x="1508.01" y="452" width="1.37" height="6.6" fill="#111"/>
<rect x="1520.13" y="452" width="2.93" height="6.6" fill="#888"/>
<rect x="1525.2" y="452" width="1.2" height="6.6" fill="#111"/>
<rect x="1527.64" y="452" width="1.2" height="6.6" fill="#111"/>
<rect x="1532.44" y="452" width="1.37" height="6.6" fill="#111"/>
<rect x="1537.33" y="452" width="1.37" height="6.6" fill="#111"/>
<rect x="1540.26" y="452" width="2.35" height="6.6" fill="#111"/>
<rect x="1547.19" y="452" width="1.2" height="6.6" fill="#111"/>
<rect x="1551.1" y="452" width="1.2" height="6.6" fill="#111"/>
<rect x="1554.34" y="452" width="2.93" height="6.6" fill="#777"/>
<rect x="1559.23" y="452" width="1.56" height="6.6" fill="#111"/>
<rect x="1564.79" y="452" width="1.2" height="6.6" fill="#111"/>
<rect x="1566.74" y="452" width="1.2" height="6.6" fill="#111"/>
<rect x="1571.94" y="452" width="1.56" height="6.6" fill="#111"/>
<rect x="1575.85" y="452" width="4.89" height="6.6" fill="#555"/>
<rect x="1582.69" y="452" width="6.45" height="6.6" fill="#111"/>
<rect x="1246.2" y="452" width="484" height="327.5" fill="none" stroke="#3a3a3a" stroke-width="1.6"/>
<path d="M1264.13 779.5v8.64M1246.2 767.37h-8.63M1353.76 779.5v8.64M1246.2 706.72h-8.63M1443.39 779.5v8.64M1246.2 646.07h-8.63M1533.01 779.5v8.64M1246.2 585.43h-8.63M1622.64 779.5v8.64M1246.2 524.78h-8.63M1712.27 779.5v8.64M1246.2 464.13h-8.63" stroke="#333" stroke-width="1.5" fill="none"/>
<g font-family="'Liberation Sans', Arial, sans-serif" font-size="12.4" fill="#111" text-anchor="middle">
<text transform="translate(1264.13 801) scale(1.03 1.03) scale(1 1.05)">0.0</text>
<text transform="translate(1235.73 767.37) scale(1.03 1.03) rotate(-90) scale(1 1.07)">0.0</text>
<text transform="translate(1353.76 801) scale(1.03 1.03) scale(1 1.05)">0.2</text>
<text transform="translate(1235.73 706.72) scale(1.03 1.03) rotate(-90) scale(1 1.07)">0.2</text>
<text transform="translate(1443.39 801) scale(1.03 1.03) scale(1 1.05)">0.4</text>
<text transform="translate(1235.73 646.07) scale(1.03 1.03) rotate(-90) scale(1 1.07)">0.4</text>
<text transform="translate(1533.01 801) scale(1.03 1.03) scale(1 1.05)">0.6</text>
<text transform="translate(1235.73 585.43) scale(1.03 1.03) rotate(-90) scale(1 1.07)">0.6</text>
<text transform="translate(1622.64 801) scale(1.03 1.03) scale(1 1.05)">0.8</text>
<text transform="translate(1235.73 524.78) scale(1.03 1.03) rotate(-90) scale(1 1.07)">0.8</text>
<text transform="translate(1712.27 801) scale(1.03 1.03) scale(1 1.05)">1.0</text>
<text transform="translate(1235.73 464.13) scale(1.03 1.03) rotate(-90) scale(1 1.07)">1.0</text>
</g>
<g font-family="'Liberation Sans', Arial, sans-serif" font-size="12.2" fill="#111" text-anchor="middle">
<text transform="translate(1488.2 848) scale(1.03 1.03) scale(1 1.05)">Predicted Probability</text>
<text transform="translate(1187.66 640.64) scale(1.03 1.03) rotate(-90) scale(1 1.1)">Actual risk</text>
</g>
<line x1="1525.53" y1="700.71" x2="1555.11" y2="700.71" stroke="#222" stroke-width="1.2" stroke-dasharray="2.21 1.66"/>
<line x1="1525.53" y1="730.33" x2="1555.52" y2="730.33" stroke="#222" stroke-width="1.2"/>
<line x1="1525.53" y1="760.47" x2="1553.87" y2="760.47" stroke="#222" stroke-width="1.2" stroke-dasharray="4.83 2.98"/>
<g font-family="'Liberation Sans', Arial, sans-serif" font-size="15.1" fill="#111">
<text transform="translate(1568.97 707.4) scale(1.03 1.03) scale(1 1.06)">Apparent</text>
<text transform="translate(1568.97 737.02) scale(1.03 1.03) scale(1 1.06)">Bias-corrected</text>
<text transform="translate(1568.97 767.16) scale(1.03 1.03) scale(1 1.06)">Ideal</text>
</g>
</g>
<clipPath id="clipG"><rect x="119.4" y="924.2" width="737.5" height="510.2"/></clipPath>
<path d="M119.4 926.2V1434.4M266.5 926.2V1434.4M413.6 926.2V1434.4M560.7 926.2V1434.4M707.8 926.2V1434.4M854.9 926.2V1434.4M119.4 1434.4H854.9M119.4 1361.8H854.9M119.4 1289.2H854.9M119.4 1216.6H854.9M119.4 1144H854.9M119.4 1071.4H854.9M119.4 998.8H854.9M119.4 926.2H854.9" stroke="#cdcdcd" stroke-width="1.1" fill="none"/>
<g clip-path="url(#clipG)" fill="none" stroke-linejoin="round">
<line x1="119.4" y1="1361.8" x2="854.9" y2="1361.8" stroke="#333" stroke-width="1.5" stroke-dasharray="1.5 1.7"/>
<polyline points="119.4,998.9 126.76,1002.25 134.11,1005.6 141.47,1010.4 148.82,1012.6 156.18,1014.8 163.53,1019 170.88,1027.3 178.24,1030.9 185.6,1036.5 192.95,1038.1 200.31,1039.7 207.66,1046.1 215.02,1050.7 222.37,1053.5 229.73,1054.9 237.08,1058.3 244.44,1062.7 251.79,1068.2 259.14,1070.8 266.5,1073.7 273.86,1079.5 281.21,1083.1 288.57,1085.4 295.92,1085.7 303.27,1085.4 310.63,1089.2 317.99,1081.8 325.34,1083.5 332.7,1087 340.05,1086.4 347.41,1087.6 354.76,1090.7 362.12,1091.7 369.47,1090.2 376.83,1095.5 384.18,1098.6 391.53,1101.6 398.89,1105.6 406.25,1102.8 413.6,1104.1 420.96,1103.7 428.31,1105.6 435.67,1103.7 443.02,1104.7 450.38,1102.8 457.73,1116.7 465.09,1117.2 472.44,1119.5 479.8,1117.6 487.15,1117.6 494.5,1117.7 501.86,1122.5 509.22,1122.1 516.57,1125.1 523.93,1130.4 531.28,1135.5 538.63,1137.8 545.99,1144.4 553.35,1151.7 560.7,1155.2 568.06,1159.4 575.41,1165.3 582.76,1181.2 590.12,1191.4 597.48,1202.8 604.83,1218 612.19,1213 619.54,1209.4 626.89,1216.8 634.25,1230.7 641.61,1241.5 648.96,1239.4 656.32,1244.5 663.67,1242.4 671.02,1248.8 678.38,1263.8 685.74,1265.3 693.09,1278.4 700.45,1278.8 707.8,1289.8 715.15,1289.8 722.51,1301 729.87,1289 737.22,1297.4 744.58,1298.9 751.93,1312.2 759.28,1307 766.64,1301.6 774,1319.6 781.35,1329.3 788.71,1334.7 796.06,1352.1 803.41,1341.3 810.77,1315.8 818.12,1320.2 825.48,1331.4 832.84,1333.8 840.19,1344.9 847.55,1349.9" stroke="#f98e3c" stroke-width="1.6"/>
<polyline points="119.4,998.9 126.76,1002.23 134.11,1005.57 141.47,1008.9 148.82,1016.7 156.18,1019.4 163.53,1025 170.88,1029.7 178.24,1032.8 185.6,1036.9 192.95,1038.75 200.31,1040.6 207.66,1043.8 215.02,1047 222.37,1052.8 229.73,1054.4 237.08,1057.6 244.44,1060.7 251.79,1062.9 259.14,1067.1 266.5,1066.5 273.86,1065.4 281.21,1066.4 288.57,1070.2 295.92,1069.2 303.27,1069.8 310.63,1072.1 317.99,1073.1 325.34,1074.2 332.7,1076.1 340.05,1078.4 347.41,1078 354.76,1079 362.12,1081.6 369.47,1084.3 376.83,1087.9 384.18,1091.1 391.53,1095.2 398.89,1094.8 406.25,1092.7 413.6,1091.9 420.96,1093 428.31,1098 435.67,1100.3 443.02,1102.8 450.38,1104.1 457.73,1108.4 465.09,1112.6 472.44,1115.5 479.8,1115.5 487.15,1115.5 494.5,1117.3 501.86,1117.3 509.22,1121.8 516.57,1124.1 523.93,1126.3 531.28,1131.7 538.63,1134.5 545.99,1141.8 553.35,1145.4 560.7,1151.4 568.06,1154.3 575.41,1160.9 582.76,1171 590.12,1177.4 597.48,1185 604.83,1191.4 612.19,1197.5 619.54,1203.4 626.89,1216.1 634.25,1218.3 641.61,1233.3 648.96,1245.4 656.32,1253 663.67,1248.3 671.02,1256.2 678.38,1268.9 685.74,1279.3 693.09,1282.8 700.45,1287.3 707.8,1261.9 715.15,1251.1 722.51,1254.4 729.87,1265.3 737.22,1267.9 744.58,1279.3 751.93,1278.1 759.28,1285 766.64,1301.6 774,1313.9 781.35,1309.1 788.71,1326.3 796.06,1346.1 803.41,1335.9 810.77,1358.7 818.12,1377.4 825.48,1414.1 832.84,1316 840.19,1329 847.55,1343.1" stroke="#45a745" stroke-width="1.6"/>
<polyline points="119.4,998.8 121.24,999.71 123.08,1000.62 124.92,1001.54 126.76,1002.47 128.59,1003.39 130.43,1004.33 132.27,1005.27 134.11,1006.21 135.95,1007.16 137.79,1008.11 139.63,1009.06 141.47,1010.03 143.3,1010.99 145.14,1011.97 146.98,1012.94 148.82,1013.92 150.66,1014.91 152.5,1015.9 154.34,1016.9 156.18,1017.91 158.01,1018.91 159.85,1019.93 161.69,1020.95 163.53,1021.97 165.37,1023 167.21,1024.04 169.05,1025.08 170.89,1026.12 172.72,1027.17 174.56,1028.23 176.4,1029.3 178.24,1030.37 180.08,1031.44 181.92,1032.52 183.76,1033.61 185.59,1034.7 187.43,1035.8 189.27,1036.9 191.11,1038.02 192.95,1039.13 194.79,1040.26 196.63,1041.39 198.47,1042.52 200.31,1043.67 202.14,1044.81 203.98,1045.97 205.82,1047.13 207.66,1048.3 209.5,1049.48 211.34,1050.66 213.18,1051.85 215.02,1053.04 216.85,1054.24 218.69,1055.45 220.53,1056.67 222.37,1057.89 224.21,1059.12 226.05,1060.36 227.89,1061.61 229.73,1062.86 231.56,1064.12 233.4,1065.39 235.24,1066.66 237.08,1067.94 238.92,1069.23 240.76,1070.53 242.6,1071.84 244.44,1073.15 246.27,1074.47 248.11,1075.8 249.95,1077.14 251.79,1078.48 253.63,1079.84 255.47,1081.2 257.31,1082.57 259.14,1083.95 260.98,1085.34 262.82,1086.73 264.66,1088.14 266.5,1089.55 268.34,1090.97 270.18,1092.4 272.02,1093.84 273.86,1095.29 275.69,1096.75 277.53,1098.22 279.37,1099.7 281.21,1101.18 283.05,1102.68 284.89,1104.19 286.73,1105.7 288.57,1107.23 290.4,1108.76 292.24,1110.31 294.08,1111.87 295.92,1113.43 297.76,1115.01 299.6,1116.59 301.44,1118.19 303.27,1119.8 305.11,1121.42 306.95,1123.05 308.79,1124.69 310.63,1126.34 312.47,1128 314.31,1129.68 316.15,1131.36 317.99,1133.06 319.82,1134.77 321.66,1136.49 323.5,1138.22 325.34,1139.97 327.18,1141.72 329.02,1143.49 330.86,1145.27 332.69,1147.07 340.1,1140.5 347.4,1143.4 361.9,1153.8 369.3,1169.4 376.7,1164.1 391.6,1171.8 398.6,1181.9 400.15,1182.52 402.24,1183.33 404.75,1184.32 407.53,1185.44 410.46,1186.68 413.4,1188 416.43,1189.45 419.68,1191.07 423.07,1192.81 426.53,1194.59 430,1196.38 433.4,1198.1 436.79,1199.79 440.24,1201.48 443.7,1203.17 447.1,1204.85 450.39,1206.5 453.5,1208.1 456.39,1209.61 459.09,1211.04 461.67,1212.44 464.21,1213.86 466.8,1215.36 469.5,1217 472.32,1218.8 475.2,1220.71 478.11,1222.71 481.05,1224.74 483.98,1226.79 486.9,1228.8 489.82,1230.8 492.75,1232.81 495.69,1234.83 498.6,1236.84 501.48,1238.83 504.3,1240.8 507.05,1242.71 509.74,1244.57 512.39,1246.41 515.02,1248.27 517.65,1250.19 520.3,1252.2 523,1254.33 525.73,1256.57 528.46,1258.86 531.16,1261.16 533.78,1263.42 536.3,1265.6 538.7,1267.69 541.01,1269.72 543.25,1271.71 545.43,1273.68 547.58,1275.64 549.7,1277.6 551.78,1279.55 553.8,1281.47 555.79,1283.38 557.75,1285.29 559.72,1287.22 561.7,1289.2 563.7,1291.2 565.7,1293.21 567.69,1295.24 569.69,1297.31 571.69,1299.43 573.7,1301.6 575.72,1303.84 577.74,1306.15 579.77,1308.51 581.79,1310.89 583.81,1313.3 585.8,1315.7 587.91,1318.29 590.16,1321.1 592.41,1323.93 594.48,1326.57 596.23,1328.79 597.5,1330.4 604.8,1361.8 847.5,1361.8" stroke="#4089c6" stroke-width="1.6"/>
<polyline points="119.4,998.8 121.24,999.71 123.08,1000.62 124.92,1001.54 126.76,1002.47 128.59,1003.39 130.43,1004.33 132.27,1005.27 134.11,1006.21 135.95,1007.16 137.79,1008.11 139.63,1009.06 141.47,1010.03 143.3,1010.99 145.14,1011.97 146.98,1012.94 148.82,1013.92 150.66,1014.91 152.5,1015.9 154.34,1016.9 156.18,1017.91 158.01,1018.91 159.85,1019.93 161.69,1020.95 163.53,1021.97 165.37,1023 167.21,1024.04 169.05,1025.08 170.89,1026.12 172.72,1027.17 174.56,1028.23 176.4,1029.3 178.24,1030.37 180.08,1031.44 181.92,1032.52 183.76,1033.61 185.59,1034.7 187.43,1035.8 189.27,1036.9 191.11,1038.02 192.95,1039.13 194.79,1040.26 196.63,1041.39 198.47,1042.52 200.31,1043.67 202.14,1044.81 203.98,1045.97 205.82,1047.13 207.66,1048.3 209.5,1049.48 211.34,1050.66 213.18,1051.85 215.02,1053.04 216.85,1054.24 218.69,1055.45 220.53,1056.67 222.37,1057.89 224.21,1059.12 226.05,1060.36 227.89,1061.61 229.73,1062.86 231.56,1064.12 233.4,1065.39 235.24,1066.66 237.08,1067.94 238.92,1069.23 240.76,1070.53 242.6,1071.84 244.44,1073.15 246.27,1074.47 248.11,1075.8 249.95,1077.14 251.79,1078.48 253.63,1079.84 255.47,1081.2 257.31,1082.57 259.14,1083.95 260.98,1085.34 262.82,1086.73 264.66,1088.14 266.5,1089.55 268.34,1090.97 270.18,1092.4 272.02,1093.84 273.86,1095.29 275.69,1096.75 277.53,1098.22 279.37,1099.7 281.21,1101.18 283.05,1102.68 284.89,1104.19 286.73,1105.7 288.57,1107.23 290.4,1108.76 292.24,1110.31 294.08,1111.87 295.92,1113.43 297.76,1115.01 299.6,1116.59 301.44,1118.19 303.27,1119.8 305.11,1121.42 306.95,1123.05 308.79,1124.69 310.63,1126.34 312.47,1128 314.31,1129.68 316.15,1131.36 317.99,1133.06 319.82,1134.77 321.66,1136.49 323.5,1138.22 325.34,1139.97 327.18,1141.72 329.02,1143.49 330.86,1145.27 332.69,1147.07 334.53,1148.87 336.37,1150.69 338.21,1152.53 340.05,1154.37 341.89,1156.23 343.73,1158.1 345.57,1159.99 347.4,1161.89 349.24,1163.8 351.08,1165.73 352.92,1167.67 354.76,1169.62 356.6,1171.59 358.44,1173.58 360.28,1175.58 362.12,1177.59 363.95,1179.62 365.79,1181.66 367.63,1183.72 369.47,1185.8 371.31,1187.89 373.15,1190 374.99,1192.12 376.83,1194.26 378.66,1196.42 380.5,1198.59 382.34,1200.78 384.18,1202.99 386.02,1205.21 387.86,1207.45 389.7,1209.71 391.53,1211.99 393.37,1214.29 395.21,1216.6 397.05,1218.93 398.89,1221.28 400.73,1223.65 402.57,1226.04 404.41,1228.45 406.25,1230.88 408.08,1233.33 409.92,1235.8 411.76,1238.29 413.6,1240.8 415.44,1243.33 417.28,1245.88 419.12,1248.46 420.96,1251.05 422.79,1253.67 424.63,1256.31 426.47,1258.98 428.31,1261.66 430.15,1264.37 431.99,1267.1 433.83,1269.86 435.66,1272.64 437.5,1275.45 439.34,1278.28 441.18,1281.13 443.02,1284.01 444.86,1286.92 446.7,1289.85 448.54,1292.81 450.38,1295.8 452.21,1298.81 454.05,1301.86 455.89,1304.92 457.73,1308.02 459.57,1311.15 461.41,1314.3 463.25,1317.49 465.09,1320.71 466.92,1323.95 468.76,1327.23 470.6,1330.54 472.44,1333.88 474.28,1337.25 476.12,1340.65 477.96,1344.09 479.79,1347.56 481.63,1351.07 483.47,1354.61 485.31,1358.19 487.15,1361.8 488.99,1365.45 490.83,1369.13 492.67,1372.86 494.5,1376.62 496.34,1380.42 498.18,1384.25 500.02,1388.13 501.86,1392.05 503.7,1396.01 505.54,1400.01 507.38,1404.05 509.22,1408.14 511.05,1412.27 512.89,1416.45 514.73,1420.66 516.57,1424.93 518.41,1429.24 520.25,1433.6 522.09,1438.01 523.93,1442.47 525.76,1446.97 527.6,1451.53" stroke="#222" stroke-width="1.6" stroke-dasharray="4.6 1.9"/>
</g>
<path d="M119.4 926.2V1434.4H854.9" stroke="#3c3c3c" stroke-width="1.05" fill="none"/>
<path d="M119.4 1434.4v3.6M266.5 1434.4v3.6M413.6 1434.4v3.6M560.7 1434.4v3.6M707.8 1434.4v3.6M854.9 1434.4v3.6M119.4 1434.4h-3.6M119.4 1361.8h-3.6M119.4 1289.2h-3.6M119.4 1216.6h-3.6M119.4 1144h-3.6M119.4 1071.4h-3.6M119.4 998.8h-3.6M119.4 926.2h-3.6" stroke="#333" stroke-width="1.1" fill="none"/>
<g font-family="'DejaVu Sans', sans-serif" font-size="20.6" fill="#111">
<text text-anchor="middle" transform="translate(119.4 1456) scale(0.92 1)">0.0</text>
<text text-anchor="middle" transform="translate(266.5 1456) scale(0.92 1)">0.2</text>
<text text-anchor="middle" transform="translate(413.6 1456) scale(0.92 1)">0.4</text>
<text text-anchor="middle" transform="translate(560.7 1456) scale(0.92 1)">0.6</text>
<text text-anchor="middle" transform="translate(707.8 1456) scale(0.92 1)">0.8</text>
<text text-anchor="middle" transform="translate(854.9 1456) scale(0.92 1)">1.0</text>
<text text-anchor="end" transform="translate(113.6 1441.8) scale(0.92 1)">−0.1</text>
<text text-anchor="end" transform="translate(113.6 1369.2) scale(0.92 1)">0.0</text>
<text text-anchor="end" transform="translate(113.6 1296.6) scale(0.92 1)">0.1</text>
<text text-anchor="end" transform="translate(113.6 1224) scale(0.92 1)">0.2</text>
<text text-anchor="end" transform="translate(113.6 1151.4) scale(0.92 1)">0.3</text>
<text text-anchor="end" transform="translate(113.6 1078.8) scale(0.92 1)">0.4</text>
<text text-anchor="end" transform="translate(113.6 1006.2) scale(0.92 1)">0.5</text>
<text text-anchor="end" transform="translate(113.6 933.6) scale(0.92 1)">0.6</text>
</g>
<g font-family="'DejaVu Sans', sans-serif" font-size="24.4" fill="#111" text-anchor="middle">
<text transform="translate(486.8 1482.6) scale(0.96 1)">Threshold Probability</text>
<text transform="translate(58 1180.3) scale(0.96 1) rotate(-90)">Net Benefit</text>
</g>
<rect x="608.7" y="936.7" width="235.6" height="153.3" rx="3.5" fill="#fff" fill-opacity="0.8" stroke="#d9d9d9" stroke-width="1.1"/>
<line x1="615" y1="952.8" x2="655.5" y2="952.8" stroke-width="1.6" stroke="#4089c6"/>
<line x1="615" y1="982.2" x2="655.5" y2="982.2" stroke-width="1.6" stroke="#f98e3c"/>
<line x1="615" y1="1011.8" x2="655.5" y2="1011.8" stroke-width="1.6" stroke="#45a745"/>
<line x1="615" y1="1041.4" x2="655.5" y2="1041.4" stroke-width="1.6" stroke="#222" stroke-dasharray="4.6 1.9"/>
<line x1="615" y1="1071.2" x2="655.5" y2="1071.2" stroke-width="1.6" stroke="#333" stroke-dasharray="1.5 1.7"/>
<g font-family="'DejaVu Sans', sans-serif" font-size="20.3" fill="#111">
<text transform="translate(671 960.2) scale(0.96 1)">Semantic Model</text>
<text transform="translate(671 989.6) scale(0.96 1)">Radiomics Model</text>
<text transform="translate(671 1019.2) scale(0.96 1)">Merged Model</text>
<text transform="translate(671 1048.8) scale(0.96 1)">Treat All</text>
<text transform="translate(671 1078.6) scale(0.96 1)">Treat None</text>
</g>
<clipPath id="clipH"><rect x="993.1" y="924.12" width="709.82" height="510.1"/></clipPath>
<path d="M993.1 926.12V1434.22M1111.07 926.12V1434.22M1229.04 926.12V1434.22M1347.01 926.12V1434.22M1464.98 926.12V1434.22M1582.95 926.12V1434.22M1700.92 926.12V1434.22M993.1 1434.22H1700.92M993.1 1332.6H1700.92M993.1 1230.98H1700.92M993.1 1129.36H1700.92M993.1 1027.74H1700.92M993.1 926.12H1700.92" stroke="#cdcdcd" stroke-width="1.1" fill="none"/>
<g clip-path="url(#clipH)" fill="none" stroke-linejoin="round">
<line x1="993.1" y1="1332.6" x2="1700.92" y2="1332.6" stroke="#333" stroke-width="1.5" stroke-dasharray="1.5 1.7"/>
<polyline points="993.1,993.9 1004.9,1000.2 1016.69,1006.6 1028.49,1013.2 1040.29,1020 1052.09,1027.2 1063.88,1037.8 1075.68,1051 1087.48,1066.2 1099.27,1073.4 1111.07,1080.6 1122.87,1089 1134.66,1093.8 1146.46,1099.9 1158.26,1108.3 1170.06,1115 1181.85,1122.2 1193.65,1129.9 1205.45,1143.2 1217.24,1149.2 1229.04,1155.2 1240.84,1161.7 1252.63,1164.3 1264.43,1168 1276.23,1171.6 1288.03,1180 1299.82,1187 1311.62,1199.7 1323.42,1202.6 1335.21,1208.9 1347.01,1217.2 1358.81,1223.7 1370.6,1240 1382.4,1246.1 1394.2,1244.4 1406,1252.8 1417.79,1262.2 1429.59,1272 1441.39,1281.8 1453.18,1292.7 1464.98,1292.8 1476.78,1303.4 1488.57,1303.4 1500.37,1308.3 1512.17,1327 1523.97,1325.8 1535.76,1330.4 1547.56,1321.2 1559.36,1331.9 1571.15,1343.7 1582.95,1324.7 1594.75,1335.7 1606.54,1338.8 1618.34,1350.7 1630.14,1344.8 1641.93,1356.7 1653.73,1349.7 1665.53,1361.5 1677.33,1342.5 1689.12,1343.2 1700.92,1320.3" stroke="#f98e3c" stroke-width="1.6"/>
<polyline points="993.1,993.9 1004.9,1000.2 1016.69,1008.4 1028.49,1021.7 1040.29,1028.4 1052.09,1043.3 1063.88,1049.3 1075.68,1055.8 1087.48,1062.1 1099.27,1069.8 1111.07,1073.4 1122.87,1081.8 1134.66,1087.8 1146.46,1095 1158.26,1101.5 1170.06,1109.5 1181.85,1122.7 1193.65,1123.9 1205.45,1126.3 1217.24,1132.3 1229.04,1137.9 1240.84,1148.7 1252.63,1152.1 1264.43,1158.3 1276.23,1164.3 1288.03,1172.8 1299.82,1180 1311.62,1182.4 1323.42,1180.9 1335.21,1189.4 1347.01,1187 1358.81,1202.7 1370.6,1211.2 1382.4,1215.5 1394.2,1223.7 1406,1240 1417.79,1249.2 1429.59,1253.8 1441.39,1258.4 1453.18,1267.6 1464.98,1272.1 1476.78,1281.8 1488.57,1291.8 1500.37,1296.3 1512.17,1300.8 1523.97,1311.1 1535.76,1315.6 1547.56,1314.3 1559.36,1324.9 1571.15,1328.5 1582.95,1316.9 1594.75,1327.7 1606.54,1338.4 1618.34,1323.6 1630.14,1317.2 1641.93,1327.7 1653.73,1329 1665.53,1330.4 1677.33,1320.4 1689.12,1320.7 1700.92,1332" stroke="#45a745" stroke-width="1.6"/>
<polyline points="993.1,993.87 994.87,994.88 996.64,995.91 998.41,996.93 1000.18,997.96 1001.95,998.99 1003.72,1000.02 1005.49,1001.06 1007.26,1002.1 1009.03,1003.14 1010.8,1004.18 1012.57,1005.23 1014.33,1006.28 1016.1,1007.34 1017.87,1008.4 1019.64,1009.46 1021.41,1010.53 1023.18,1011.59 1024.95,1012.67 1026.72,1013.74 1028.49,1014.82 1030.26,1015.9 1032.03,1016.99 1033.8,1018.07 1035.57,1019.17 1037.34,1020.26 1039.11,1021.36 1040.88,1022.46 1042.65,1023.57 1044.42,1024.68 1046.19,1025.79 1047.96,1026.91 1049.73,1028.02 1051.5,1029.15 1053.26,1030.27 1055.03,1031.4 1056.8,1032.54 1058.57,1033.68 1060.34,1034.82 1062.11,1035.96 1063.88,1037.11 1065.65,1038.26 1067.42,1039.42 1069.19,1040.58 1070.96,1041.74 1072.73,1042.91 1074.5,1044.08 1076.27,1045.25 1078.04,1046.43 1079.81,1047.61 1081.58,1048.8 1083.35,1049.99 1085.12,1051.18 1086.89,1052.38 1088.66,1053.58 1090.43,1054.78 1092.19,1055.99 1093.96,1057.21 1095.73,1058.42 1097.5,1059.64 1099.27,1060.87 1101.04,1062.1 1102.81,1063.33 1104.58,1064.57 1106.35,1065.81 1108.12,1067.06 1109.89,1068.31 1111.66,1069.56 1113.43,1070.82 1115.2,1072.08 1116.97,1073.35 1118.74,1074.62 1120.51,1075.89 1122.28,1077.17 1124.05,1078.45 1125.82,1079.74 1127.59,1081.04 1129.36,1082.33 1131.12,1083.63 1132.89,1084.94 1134.66,1086.25 1136.43,1087.56 1138.2,1088.88 1139.97,1090.21 1141.74,1091.53 1143.51,1092.87 1145.28,1094.2 1147.05,1095.55 1148.82,1096.89 1150.59,1098.24 1152.36,1099.6 1154.13,1100.96 1155.9,1102.32 1157.67,1103.69 1159.44,1105.07 1161.21,1106.45 1162.98,1107.83 1164.75,1109.22 1166.52,1110.62 1168.29,1112.02 1170.06,1113.42 1171.82,1114.83 1173.59,1116.24 1175.36,1117.66 1177.13,1119.09 1178.9,1120.51 1180.67,1121.95 1182.44,1123.39 1184.21,1124.83 1185.98,1126.28 1187.75,1127.74 1189.52,1129.2 1191.29,1130.66 1193.06,1132.13 1194.83,1133.61 1196.6,1135.09 1198.37,1136.58 1200.14,1138.07 1201.91,1139.57 1203.68,1141.07 1205.45,1142.58 1207.22,1144.09 1208.99,1145.61 1210.75,1147.14 1212.52,1148.67 1214.29,1150.21 1216.06,1151.75 1217.83,1153.3 1219.6,1154.85 1221.37,1156.41 1223.14,1157.97 1224.91,1159.54 1226.68,1161.12 1228.45,1162.7 1230.22,1164.29 1231.99,1165.89 1233.76,1167.49 1235.53,1169.1 1237.3,1170.71 1239.07,1172.33 1240.84,1173.95 1242.61,1175.58 1244.38,1177.22 1246.15,1178.87 1247.92,1180.52 1249.68,1182.17 1251.45,1183.83 1253.22,1185.5 1254.99,1187.18 1256.76,1188.86 1258.53,1190.55 1260.3,1192.25 1262.07,1193.95 1263.84,1195.66 1265.61,1197.37 1267.38,1199.09 1269.15,1200.82 1270.92,1202.56 1272.69,1204.3 1274.46,1206.05 1276.23,1207.8 1278,1209.57 1279.77,1211.34 1281.54,1213.11 1283.31,1214.9 1285.08,1216.69 1286.85,1218.49 1288.61,1220.29 1290.38,1222.1 1292.15,1223.92 1293.92,1225.75 1295.69,1227.59 1297.46,1229.43 1299.23,1231.28 1301,1233.13 1302.77,1235 1304.54,1236.87 1306.31,1238.75 1308.08,1240.64 1309.85,1242.53 1311.62,1244.44 1313.39,1246.35 1315.16,1248.27 1316.93,1250.19 1318.7,1252.13 1320.47,1254.07 1322.24,1256.02 1324.01,1257.98 1325.78,1259.95 1327.54,1261.92 1329.31,1263.91 1331.08,1265.9 1332.85,1267.9 1334.62,1269.91 1347.5,1240.8 1358.8,1237.6 1370.8,1247.7 1382.8,1257.6 1394.2,1246.5 1406.2,1246.1 1418.2,1253.8 1429.6,1261.2 1441.6,1210.6 1465.4,1222.2 1483.1,1231.5 1500,1240.4 1512.1,1241.2 1512.1,1241.2 1513.31,1241.88 1514.97,1242.81 1516.94,1243.92 1519.1,1245.14 1521.29,1246.39 1523.4,1247.6 1525.48,1248.81 1527.64,1250.07 1529.86,1251.37 1532.07,1252.67 1534.23,1253.96 1536.3,1255.2 1538.26,1256.39 1540.16,1257.54 1542,1258.68 1543.82,1259.81 1545.65,1260.95 1547.5,1262.1 1549.36,1263.26 1551.2,1264.4 1553.04,1265.55 1554.91,1266.72 1556.82,1267.93 1558.8,1269.2 1560.87,1270.55 1563.03,1271.96 1565.23,1273.42 1567.44,1274.88 1569.61,1276.32 1571.7,1277.7 1573.7,1279 1575.63,1280.25 1577.53,1281.47 1579.41,1282.7 1581.33,1283.96 1583.3,1285.3 1585.35,1286.73 1587.44,1288.22 1589.57,1289.75 1591.69,1291.29 1593.78,1292.82 1595.8,1294.3 1597.75,1295.73 1599.66,1297.13 1601.53,1298.51 1603.38,1299.89 1605.23,1301.28 1607.1,1302.7 1608.98,1304.15 1610.87,1305.62 1612.76,1307.11 1614.64,1308.6 1616.52,1310.1 1618.4,1311.6 1620.25,1313.08 1622.08,1314.55 1623.9,1316.02 1625.74,1317.52 1627.64,1319.07 1629.6,1320.7 1631.65,1322.42 1633.77,1324.21 1635.94,1326.06 1638.14,1327.94 1640.33,1329.83 1642.5,1331.7 1644.67,1333.58 1646.86,1335.48 1649.05,1337.39 1651.22,1339.29 1653.34,1341.17 1655.4,1343 1657.38,1344.78 1659.29,1346.5 1661.15,1348.2 1662.99,1349.9 1664.84,1351.63 1666.7,1353.4 1668.58,1355.23 1670.47,1357.1 1672.36,1358.99 1674.24,1360.9 1676.12,1362.81 1678,1364.7 1679.87,1366.58 1681.72,1368.46 1683.57,1370.34 1685.43,1372.23 1687.3,1374.11 1689.2,1376 1691.27,1378.03 1693.53,1380.21 1695.8,1382.41 1697.92,1384.44 1699.71,1386.16 1701,1387.4" stroke="#4089c6" stroke-width="1.6"/>
<polyline points="993.1,993.87 994.87,994.88 996.64,995.91 998.41,996.93 1000.18,997.96 1001.95,998.99 1003.72,1000.02 1005.49,1001.06 1007.26,1002.1 1009.03,1003.14 1010.8,1004.18 1012.57,1005.23 1014.33,1006.28 1016.1,1007.34 1017.87,1008.4 1019.64,1009.46 1021.41,1010.53 1023.18,1011.59 1024.95,1012.67 1026.72,1013.74 1028.49,1014.82 1030.26,1015.9 1032.03,1016.99 1033.8,1018.07 1035.57,1019.17 1037.34,1020.26 1039.11,1021.36 1040.88,1022.46 1042.65,1023.57 1044.42,1024.68 1046.19,1025.79 1047.96,1026.91 1049.73,1028.02 1051.5,1029.15 1053.26,1030.27 1055.03,1031.4 1056.8,1032.54 1058.57,1033.68 1060.34,1034.82 1062.11,1035.96 1063.88,1037.11 1065.65,1038.26 1067.42,1039.42 1069.19,1040.58 1070.96,1041.74 1072.73,1042.91 1074.5,1044.08 1076.27,1045.25 1078.04,1046.43 1079.81,1047.61 1081.58,1048.8 1083.35,1049.99 1085.12,1051.18 1086.89,1052.38 1088.66,1053.58 1090.43,1054.78 1092.19,1055.99 1093.96,1057.21 1095.73,1058.42 1097.5,1059.64 1099.27,1060.87 1101.04,1062.1 1102.81,1063.33 1104.58,1064.57 1106.35,1065.81 1108.12,1067.06 1109.89,1068.31 1111.66,1069.56 1113.43,1070.82 1115.2,1072.08 1116.97,1073.35 1118.74,1074.62 1120.51,1075.89 1122.28,1077.17 1124.05,1078.45 1125.82,1079.74 1127.59,1081.04 1129.36,1082.33 1131.12,1083.63 1132.89,1084.94 1134.66,1086.25 1136.43,1087.56 1138.2,1088.88 1139.97,1090.21 1141.74,1091.53 1143.51,1092.87 1145.28,1094.2 1147.05,1095.55 1148.82,1096.89 1150.59,1098.24 1152.36,1099.6 1154.13,1100.96 1155.9,1102.32 1157.67,1103.69 1159.44,1105.07 1161.21,1106.45 1162.98,1107.83 1164.75,1109.22 1166.52,1110.62 1168.29,1112.02 1170.06,1113.42 1171.82,1114.83 1173.59,1116.24 1175.36,1117.66 1177.13,1119.09 1178.9,1120.51 1180.67,1121.95 1182.44,1123.39 1184.21,1124.83 1185.98,1126.28 1187.75,1127.74 1189.52,1129.2 1191.29,1130.66 1193.06,1132.13 1194.83,1133.61 1196.6,1135.09 1198.37,1136.58 1200.14,1138.07 1201.91,1139.57 1203.68,1141.07 1205.45,1142.58 1207.22,1144.09 1208.99,1145.61 1210.75,1147.14 1212.52,1148.67 1214.29,1150.21 1216.06,1151.75 1217.83,1153.3 1219.6,1154.85 1221.37,1156.41 1223.14,1157.97 1224.91,1159.54 1226.68,1161.12 1228.45,1162.7 1230.22,1164.29 1231.99,1165.89 1233.76,1167.49 1235.53,1169.1 1237.3,1170.71 1239.07,1172.33 1240.84,1173.95 1242.61,1175.58 1244.38,1177.22 1246.15,1178.87 1247.92,1180.52 1249.68,1182.17 1251.45,1183.83 1253.22,1185.5 1254.99,1187.18 1256.76,1188.86 1258.53,1190.55 1260.3,1192.25 1262.07,1193.95 1263.84,1195.66 1265.61,1197.37 1267.38,1199.09 1269.15,1200.82 1270.92,1202.56 1272.69,1204.3 1274.46,1206.05 1276.23,1207.8 1278,1209.57 1279.77,1211.34 1281.54,1213.11 1283.31,1214.9 1285.08,1216.69 1286.85,1218.49 1288.61,1220.29 1290.38,1222.1 1292.15,1223.92 1293.92,1225.75 1295.69,1227.59 1297.46,1229.43 1299.23,1231.28 1301,1233.13 1302.77,1235 1304.54,1236.87 1306.31,1238.75 1308.08,1240.64 1309.85,1242.53 1311.62,1244.44 1313.39,1246.35 1315.16,1248.27 1316.93,1250.19 1318.7,1252.13 1320.47,1254.07 1322.24,1256.02 1324.01,1257.98 1325.78,1259.95 1327.54,1261.92 1329.31,1263.91 1331.08,1265.9 1332.85,1267.9 1334.62,1269.91 1336.39,1271.92 1338.16,1273.95 1339.93,1275.98 1341.7,1278.03 1343.47,1280.08 1345.24,1282.14 1347.01,1284.21 1348.78,1286.29 1350.55,1288.38 1352.32,1290.47 1354.09,1292.58 1355.86,1294.69 1357.63,1296.81 1359.4,1298.95 1361.17,1301.09 1362.94,1303.24 1364.71,1305.4 1366.48,1307.57 1368.24,1309.75 1370.01,1311.94 1371.78,1314.14 1373.55,1316.35 1375.32,1318.57 1377.09,1320.8 1378.86,1323.04 1380.63,1325.29 1382.4,1327.54 1384.17,1329.81 1385.94,1332.09 1387.71,1334.38 1389.48,1336.68 1391.25,1338.99 1393.02,1341.31 1394.79,1343.64 1396.56,1345.98 1398.33,1348.34 1400.1,1350.7 1401.87,1353.07 1403.64,1355.46 1405.41,1357.86 1407.17,1360.26 1408.94,1362.68 1410.71,1365.11 1412.48,1367.55 1414.25,1370 1416.02,1372.47 1417.79,1374.94 1419.56,1377.43 1421.33,1379.93 1423.1,1382.44 1424.87,1384.96 1426.64,1387.49 1428.41,1390.04 1430.18,1392.6 1431.95,1395.17 1433.72,1397.75 1435.49,1400.35 1437.26,1402.95 1439.03,1405.57 1440.8,1408.21 1442.57,1410.85 1444.34,1413.51 1446.1,1416.18 1447.87,1418.87 1449.64,1421.57 1451.41,1424.28 1453.18,1427 1454.95,1429.74 1456.72,1432.49 1458.49,1435.25 1460.26,1438.03 1462.03,1440.83 1463.8,1443.63 1465.57,1446.45 1467.34,1449.29 1469.11,1452.14 1470.88,1455" stroke="#222" stroke-width="1.6" stroke-dasharray="4.6 1.9"/>
</g>
<path d="M993.1 926.12V1434.22H1700.92" stroke="#3c3c3c" stroke-width="1.05" fill="none"/>
<path d="M993.1 1434.22v3.6M1111.07 1434.22v3.6M1229.04 1434.22v3.6M1347.01 1434.22v3.6M1464.98 1434.22v3.6M1582.95 1434.22v3.6M1700.92 1434.22v3.6M993.1 1434.22h-3.6M993.1 1332.6h-3.6M993.1 1230.98h-3.6M993.1 1129.36h-3.6M993.1 1027.74h-3.6M993.1 926.12h-3.6" stroke="#333" stroke-width="1.1" fill="none"/>
<g font-family="'DejaVu Sans', sans-serif" font-size="20.6" fill="#111">
<text text-anchor="middle" transform="translate(993.1 1455.82) scale(0.88 1)">0.0</text>
<text text-anchor="middle" transform="translate(1111.07 1455.82) scale(0.88 1)">0.1</text>
<text text-anchor="middle" transform="translate(1229.04 1455.82) scale(0.88 1)">0.2</text>
<text text-anchor="middle" transform="translate(1347.01 1455.82) scale(0.88 1)">0.3</text>
<text text-anchor="middle" transform="translate(1464.98 1455.82) scale(0.88 1)">0.4</text>
<text text-anchor="middle" transform="translate(1582.95 1455.82) scale(0.88 1)">0.5</text>
<text text-anchor="middle" transform="translate(1700.92 1455.82) scale(0.88 1)">0.6</text>
<text text-anchor="end" transform="translate(987.3 1441.62) scale(0.88 1)">−0.1</text>
<text text-anchor="end" transform="translate(987.3 1340) scale(0.88 1)">0.0</text>
<text text-anchor="end" transform="translate(987.3 1238.38) scale(0.88 1)">0.1</text>
<text text-anchor="end" transform="translate(987.3 1136.76) scale(0.88 1)">0.2</text>
<text text-anchor="end" transform="translate(987.3 1035.14) scale(0.88 1)">0.3</text>
<text text-anchor="end" transform="translate(987.3 933.52) scale(0.88 1)">0.4</text>
</g>
<g font-family="'DejaVu Sans', sans-serif" font-size="24.4" fill="#111" text-anchor="middle">
<text transform="translate(1347.5 1482.6) scale(0.93 1)">Threshold Probability</text>
<text transform="translate(935.3 1180.17) scale(0.93 1) rotate(-90)">Net Benefit</text>
</g>
<rect x="1464.1" y="936.6" width="226.9" height="153.7" rx="3.5" fill="#fff" fill-opacity="0.8" stroke="#d9d9d9" stroke-width="1.1"/>
<line x1="1470.3" y1="952.8" x2="1509" y2="952.8" stroke-width="1.6" stroke="#4089c6"/>
<line x1="1470.3" y1="982.2" x2="1509" y2="982.2" stroke-width="1.6" stroke="#f98e3c"/>
<line x1="1470.3" y1="1011.8" x2="1509" y2="1011.8" stroke-width="1.6" stroke="#45a745"/>
<line x1="1470.3" y1="1041.4" x2="1509" y2="1041.4" stroke-width="1.6" stroke="#222" stroke-dasharray="4.6 1.9"/>
<line x1="1470.3" y1="1071.2" x2="1509" y2="1071.2" stroke-width="1.6" stroke="#333" stroke-dasharray="1.5 1.7"/>
<g font-family="'DejaVu Sans', sans-serif" font-size="20.3" fill="#111">
<text transform="translate(1524 960.2) scale(0.93 1)">Semantic Model</text>
<text transform="translate(1524 989.6) scale(0.93 1)">Radiomics Model</text>
<text transform="translate(1524 1019.2) scale(0.93 1)">Merged Model</text>
<text transform="translate(1524 1048.8) scale(0.93 1)">Treat All</text>
<text transform="translate(1524 1078.6) scale(0.93 1)">Treat None</text>
</g>
<g font-family="'Liberation Sans', Arial, sans-serif" font-weight="bold" fill="#000">
<text x="-0.6" y="24" font-size="29.6">A</text>
<text x="0.2" y="446.2" font-size="29.6">B</text>
<text x="573.6" y="24.2" font-size="29.6">C</text>
<text x="573.3" y="446.3" font-size="29.8">D</text>
<text x="1173.3" y="23.9" font-size="29.2">E</text>
<text x="1173.3" y="446.3" font-size="29.6">F</text>
<text x="-0.2" y="921.6" font-size="30.2">G</text>
<text x="897.1" y="921.6" font-size="30.2">H</text>
</g>
</svg></body></html>
